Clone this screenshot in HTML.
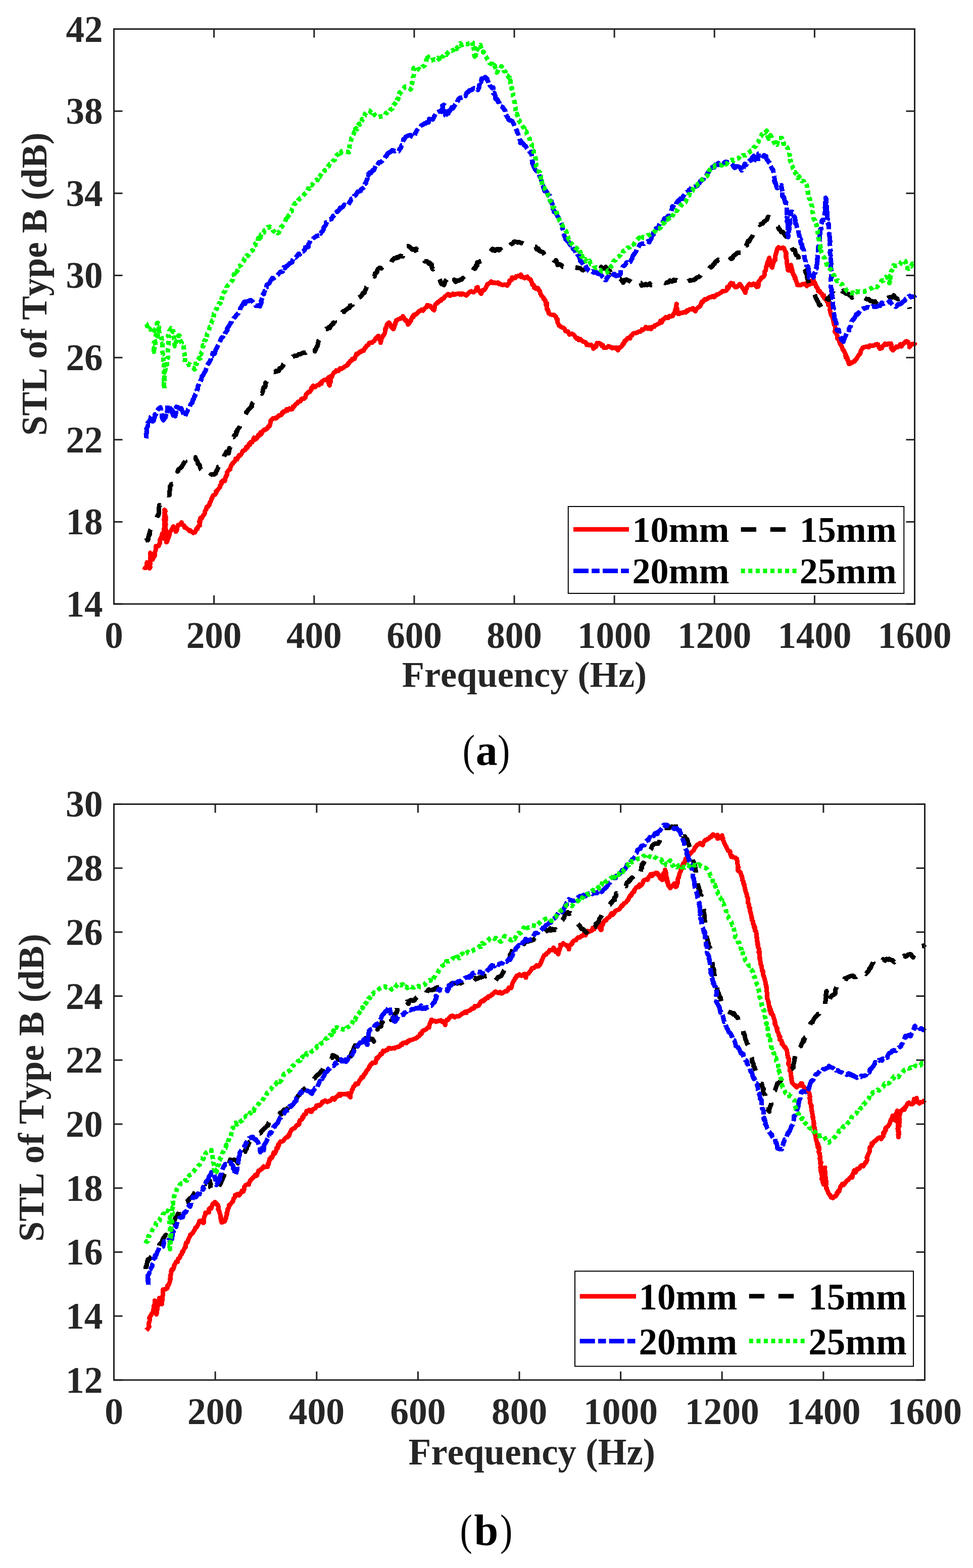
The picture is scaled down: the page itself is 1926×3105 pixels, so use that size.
<!DOCTYPE html>
<html><head><meta charset="utf-8"><title>STL of Type B</title>
<style>html,body{margin:0;padding:0;background:#fff;}svg{display:block;}text{font-kerning:none;}</style></head>
<body>
<svg width="1926" height="3105" viewBox="0 0 1926 3105">
<rect width="1926" height="3105" fill="#fff"/>
<g><polyline points="286.6,1128.6 286.8,1124.9 288.7,1122.9 290.4,1121.1 290.4,1118.2 290.9,1113.8 292.5,1117.5 293.7,1119.1 295.1,1121.0 294.0,1124.1 296.2,1125.4 297.3,1123.2 296.6,1122.8 296.8,1119.5 298.0,1115.0 297.0,1112.8 297.5,1110.2 297.8,1108.3 297.1,1104.8 298.1,1102.7 298.7,1100.0 297.6,1098.9 297.5,1094.7 299.5,1097.9 300.1,1100.7 301.1,1105.7 302.0,1107.9 303.4,1105.2 305.5,1101.2 306.5,1100.4 307.0,1095.9 306.7,1094.1 307.4,1091.1 308.8,1087.5 308.1,1084.7 308.7,1081.6 311.9,1082.1 314.3,1081.0 315.1,1077.4 316.9,1075.0 316.7,1073.9 316.6,1068.7 318.7,1064.5 319.7,1065.1 320.6,1059.5 321.8,1055.7 322.3,1057.5 323.4,1063.5 324.0,1066.6 323.8,1062.6 323.5,1062.4 324.5,1057.3 324.8,1058.5 324.1,1051.5 324.7,1050.9 324.6,1048.2 325.2,1044.5 325.0,1038.4 325.3,1041.0 325.3,1037.3 325.6,1036.2 325.5,1033.8 324.8,1028.6 325.6,1027.4 325.4,1025.3 325.8,1021.0 326.5,1017.3 325.3,1015.8 325.9,1017.3 326.5,1011.7 325.5,1009.7 327.1,1011.1 327.2,1012.8 326.6,1016.4 326.7,1018.0 327.8,1023.3 328.5,1024.9 327.2,1026.2 327.3,1029.0 328.3,1029.7 327.1,1033.6 328.2,1038.8 327.5,1037.9 327.6,1042.4 327.9,1045.8 327.5,1046.1 328.4,1049.5 328.2,1050.4 328.5,1055.5 328.9,1057.0 329.6,1059.1 329.6,1062.3 329.9,1067.3 328.9,1068.0 328.8,1068.3 329.4,1073.6 330.6,1072.4 332.9,1066.3 333.6,1063.8 335.6,1058.9 335.3,1056.2 336.1,1055.3 335.9,1054.9 337.4,1052.5 339.8,1048.4 341.1,1046.5 343.0,1042.3 344.3,1047.0 346.8,1048.9 348.1,1053.0 349.4,1050.8 350.1,1048.8 350.5,1045.5 352.1,1041.8 352.5,1039.9 352.9,1039.4 356.9,1038.9 359.2,1034.3 360.0,1038.1 361.8,1039.5 364.5,1040.5 365.2,1044.8 368.7,1045.4 372.3,1048.6 375.3,1051.6 376.1,1049.9 379.5,1052.7 382.8,1055.3 385.7,1054.3 387.6,1050.5 389.1,1046.8 390.8,1047.0 391.7,1043.1 394.1,1040.6 396.0,1040.2 394.5,1033.2 396.3,1033.9 394.9,1031.7 396.1,1029.1 396.6,1025.7 399.3,1026.5 401.1,1023.2 402.5,1020.5 403.3,1020.4 405.4,1015.7 405.5,1013.7 406.4,1010.7 407.9,1009.5 409.3,1003.7 410.3,1003.2 412.0,1002.9 413.9,998.8 414.8,998.9 415.6,994.4 416.6,993.9 418.3,989.8 418.1,988.7 420.3,985.3 421.6,981.5 424.2,979.9 426.0,979.3 428.3,975.1 427.7,972.9 429.7,971.9 432.2,968.2 433.9,966.5 435.7,964.7 435.8,960.7 437.0,960.1 438.9,957.1 438.0,954.7 441.1,952.1 442.9,950.7 445.0,952.6 445.5,948.9 447.5,941.9 447.9,943.7 449.8,938.9 449.9,938.7 449.4,934.9 449.9,934.6 452.3,932.0 454.2,929.4 455.9,928.9 456.0,925.9 458.4,920.4 460.5,917.2 460.8,918.2 463.7,914.4 465.9,911.9 466.1,908.4 468.5,909.5 469.3,909.7 471.6,904.6 473.1,901.5 475.3,902.3 477.4,899.1 478.5,898.1 480.3,893.1 482.1,893.3 483.6,891.3 485.5,890.9 487.2,885.8 489.8,886.5 491.2,882.7 493.1,878.3 494.8,880.6 496.2,875.5 499.1,875.9 499.8,874.7 501.2,870.9 502.7,866.7 505.7,870.0 507.2,868.8 509.5,866.1 511.2,861.6 514.0,862.3 515.7,856.1 517.3,859.5 519.9,853.9 522.8,850.8 525.1,851.1 527.6,849.9 529.8,847.3 530.5,845.1 533.7,843.6 534.5,839.8 533.5,842.2 535.0,839.1 535.7,833.5 538.1,831.3 540.3,828.7 541.4,829.1 544.0,827.9 546.5,828.2 549.0,826.2 551.9,822.6 554.6,822.6 558.3,820.5 558.4,817.3 560.4,815.0 562.9,815.1 565.5,814.3 567.1,810.6 570.0,812.7 572.8,808.8 574.8,810.5 578.8,810.0 580.0,805.3 582.6,805.1 584.7,800.7 585.2,800.7 588.1,799.0 590.0,795.5 591.9,795.3 594.8,794.6 596.7,790.0 599.1,789.8 601.4,789.7 604.6,786.6 605.8,781.3 606.8,780.7 610.2,776.6 611.8,776.0 612.8,776.3 616.1,772.3 615.6,771.4 616.5,768.4 620.1,764.0 623.6,766.6 626.6,764.0 628.3,762.9 631.3,762.7 634.4,758.1 636.0,760.0 637.5,755.4 638.6,754.7 641.2,752.6 644.6,752.5 647.3,750.9 651.0,746.7 650.5,752.2 651.2,757.3 650.7,757.4 651.0,760.5 652.4,763.2 652.9,759.4 653.6,758.0 654.5,755.8 654.3,751.3 655.1,749.0 655.9,744.3 657.7,745.1 657.7,743.4 659.1,740.7 661.4,737.5 663.7,736.9 665.5,733.6 668.0,734.6 670.0,734.4 673.1,729.7 675.8,730.5 679.6,728.1 680.2,727.4 682.8,725.7 685.6,724.0 687.5,723.5 689.8,719.0 691.1,719.2 693.4,714.8 696.3,713.9 697.3,710.9 700.6,711.1 702.1,710.4 703.7,705.7 705.7,700.4 708.0,701.7 710.4,698.6 713.1,696.1 714.3,697.2 716.1,694.3 719.6,694.7 721.1,691.5 722.2,689.0 723.9,688.3 725.9,684.3 729.1,683.2 731.1,679.0 734.1,678.3 736.9,678.8 738.7,676.1 741.1,675.2 742.5,671.6 744.0,669.8 746.5,667.0 748.1,665.7 749.3,665.3 749.8,670.5 749.7,670.7 752.5,674.0 753.3,678.8 754.6,673.8 754.7,673.4 754.8,670.0 756.6,668.7 757.1,667.2 758.4,664.5 760.1,663.1 761.9,659.0 762.2,656.8 762.3,654.4 763.1,650.0 763.9,650.7 764.5,649.1 765.5,644.4 766.8,642.8 766.8,641.5 769.7,638.8 771.4,640.6 773.0,643.0 774.5,647.8 776.5,649.4 778.8,651.9 779.9,648.9 780.8,645.4 781.4,642.9 782.3,642.6 782.9,637.9 784.4,636.6 784.3,634.2 787.7,632.6 790.2,631.9 792.4,630.3 795.1,630.3 797.4,626.3 799.9,629.9 801.8,634.3 802.6,633.7 804.7,634.5 806.1,637.0 807.7,642.7 810.2,639.8 811.3,637.5 813.5,635.1 814.4,631.2 815.7,628.2 818.1,628.0 818.7,623.8 820.6,623.0 823.5,622.9 824.8,621.5 826.9,619.2 829.5,616.3 831.1,615.9 834.6,613.1 837.3,615.3 839.8,611.6 841.1,610.3 844.3,608.2 845.8,604.3 847.4,604.5 850.3,607.0 851.9,605.8 854.4,609.5 856.3,612.0 859.4,614.3 860.2,609.1 861.1,604.6 862.9,601.7 864.3,601.6 866.0,598.7 867.4,599.0 869.6,595.9 873.1,595.3 873.9,592.4 876.8,591.4 878.7,590.5 880.4,587.2 881.2,587.3 884.9,583.5 887.4,582.3 890.8,585.7 893.3,584.5 896.5,581.6 899.1,583.9 901.4,582.4 903.4,582.4 907.4,581.1 909.9,583.1 912.2,581.6 913.3,583.4 916.2,581.4 921.0,584.2 923.1,585.1 924.9,583.0 927.1,580.5 929.6,578.4 932.6,576.9 934.6,577.7 937.1,579.0 939.8,576.8 942.7,575.0 943.1,570.0 945.6,568.8 945.6,571.1 948.3,575.8 948.7,576.9 950.5,575.9 951.5,581.1 952.7,581.7 954.4,575.2 956.9,574.4 958.8,574.2 961.0,571.3 962.3,568.9 963.1,567.0 964.7,562.8 965.5,563.0 968.5,561.0 969.6,560.0 972.1,557.4 975.3,560.5 978.3,559.1 979.9,560.6 983.0,560.5 985.2,559.4 987.0,562.2 989.9,561.8 992.5,563.6 995.0,564.5 998.3,563.3 1000.6,564.4 1004.3,565.6 1003.9,563.9 1006.7,561.7 1007.3,561.6 1008.6,555.8 1010.6,555.6 1012.9,554.0 1013.5,549.5 1018.1,550.7 1019.7,551.0 1021.9,547.1 1025.7,546.8 1027.9,546.3 1031.1,543.8 1032.3,549.0 1035.3,548.6 1038.4,551.0 1041.7,548.6 1043.7,547.9 1045.5,550.9 1049.0,553.0 1049.8,552.9 1052.1,558.1 1053.5,561.8 1053.7,563.7 1056.4,564.3 1057.3,569.9 1058.1,567.2 1060.6,571.5 1061.0,571.3 1064.7,570.3 1066.2,574.2 1067.2,574.6 1068.8,576.6 1069.2,579.8 1070.8,583.8 1071.3,585.1 1073.3,586.5 1075.8,589.5 1075.9,591.9 1078.3,593.4 1079.8,595.9 1079.7,596.1 1080.9,604.4 1082.8,600.7 1082.2,604.3 1083.0,610.0 1082.8,612.9 1085.1,615.8 1085.0,614.0 1086.2,620.8 1087.3,621.0 1089.5,622.8 1093.8,623.4 1094.6,623.1 1096.9,623.9 1100.8,627.7 1101.9,632.3 1102.1,632.1 1103.4,632.2 1103.8,638.7 1105.2,641.2 1106.6,645.1 1108.3,645.7 1111.7,648.0 1112.7,648.5 1115.8,649.3 1117.5,651.0 1118.9,655.2 1121.6,656.5 1124.4,656.5 1127.0,662.4 1130.1,661.5 1132.3,660.9 1135.3,662.5 1137.9,665.6 1139.4,668.8 1141.0,670.4 1143.6,669.1 1145.5,673.2 1149.2,671.6 1151.1,674.1 1154.3,676.4 1156.9,677.0 1159.5,678.2 1161.3,683.0 1164.5,682.4 1166.6,683.7 1170.2,682.9 1173.1,685.4 1174.5,690.3 1177.1,688.3 1180.4,685.8 1181.0,680.4 1182.0,679.1 1184.8,679.1 1188.9,680.8 1191.2,685.0 1193.1,683.3 1195.5,688.6 1199.5,688.8 1201.5,687.9 1204.2,685.6 1206.2,686.5 1209.5,687.4 1212.0,689.6 1214.1,688.4 1217.4,689.1 1220.7,688.2 1223.1,693.8 1224.9,688.2 1227.2,688.6 1230.7,685.3 1231.7,684.5 1233.2,680.4 1235.0,680.3 1236.7,674.7 1237.2,675.5 1240.0,672.9 1242.4,669.6 1244.4,668.6 1247.0,670.2 1248.9,665.1 1250.9,664.0 1253.4,660.2 1257.2,659.6 1260.6,659.1 1262.3,658.0 1265.2,656.6 1268.0,656.5 1270.6,654.1 1271.1,652.2 1274.0,652.3 1276.0,650.9 1278.4,647.7 1281.2,649.3 1282.8,651.1 1286.1,648.0 1288.7,651.7 1290.7,647.4 1294.9,647.1 1296.5,644.2 1298.2,643.8 1302.6,641.6 1305.8,640.1 1307.4,635.3 1309.9,638.5 1312.0,633.1 1314.3,632.2 1317.9,628.1 1320.4,629.9 1322.6,630.0 1324.9,625.8 1328.6,626.5 1331.1,625.7 1331.5,625.7 1333.3,621.9 1334.3,620.3 1336.7,616.7 1336.9,612.7 1338.1,612.7 1338.2,607.8 1338.4,607.0 1339.2,601.9 1338.7,606.6 1340.2,611.3 1339.7,613.7 1340.2,613.1 1340.4,616.8 1340.5,620.2 1342.6,622.0 1344.8,621.6 1346.8,619.1 1350.1,619.4 1352.0,619.1 1355.4,617.7 1357.4,618.6 1360.1,614.6 1362.2,615.3 1365.0,612.5 1368.4,612.5 1371.6,610.4 1373.5,613.9 1376.6,616.2 1378.1,612.2 1381.6,609.2 1383.9,607.6 1385.9,606.3 1386.8,603.2 1388.2,601.5 1389.0,597.8 1391.3,597.9 1393.3,594.6 1395.5,592.1 1397.0,593.5 1400.7,591.9 1402.7,589.4 1404.8,588.6 1407.6,588.6 1410.4,586.4 1413.7,588.2 1416.0,585.9 1418.7,583.3 1421.3,583.2 1424.1,581.2 1425.8,580.1 1428.9,578.5 1431.0,576.1 1434.2,576.4 1437.5,575.5 1439.3,572.6 1439.9,568.1 1441.8,570.7 1443.3,567.6 1444.5,564.1 1446.9,560.4 1447.4,561.9 1449.0,562.3 1451.0,561.1 1451.8,565.5 1455.1,567.7 1455.6,568.5 1459.6,568.1 1462.5,564.2 1464.7,562.8 1467.6,567.0 1469.5,569.7 1470.8,571.8 1473.8,573.9 1473.2,575.2 1475.3,579.8 1475.9,573.9 1477.6,572.1 1478.9,568.2 1479.3,567.5 1481.0,565.2 1483.5,562.0 1486.8,564.8 1488.8,564.2 1491.2,561.8 1493.8,562.5 1495.5,566.1 1497.8,568.2 1500.0,567.3 1500.9,567.3 1501.4,565.1 1501.4,558.4 1502.6,556.7 1503.6,556.1 1505.0,553.9 1506.9,549.9 1508.2,549.7 1511.2,548.5 1513.3,544.8 1513.4,543.2 1513.2,539.6 1513.7,537.9 1515.9,535.5 1516.0,533.4 1516.4,529.1 1517.4,527.2 1518.5,522.2 1519.3,520.4 1519.7,518.2 1521.7,517.2 1522.0,512.5 1522.9,510.4 1524.0,516.6 1524.2,515.4 1524.7,520.3 1525.7,521.4 1527.0,523.2 1526.9,527.9 1528.6,530.1 1529.1,526.7 1529.3,524.6 1531.4,519.6 1531.0,519.6 1532.8,515.9 1534.0,512.1 1534.7,514.7 1534.5,507.5 1535.1,505.3 1535.7,503.1 1536.9,498.9 1536.9,500.1 1537.7,495.4 1538.2,493.8 1539.5,491.2 1541.0,489.6 1543.6,491.7 1547.2,491.2 1550.3,490.4 1551.7,491.4 1553.8,496.3 1553.8,496.8 1556.0,500.1 1555.9,502.9 1556.3,501.5 1555.6,509.2 1556.7,508.7 1556.9,512.5 1557.0,513.6 1557.6,518.8 1557.7,522.1 1559.1,524.4 1559.1,525.1 1558.9,528.5 1559.8,534.9 1561.3,535.9 1561.8,530.0 1563.3,529.6 1563.7,527.0 1565.6,524.8 1566.0,526.8 1566.9,529.4 1567.3,532.0 1568.6,537.5 1568.9,540.2 1569.7,542.5 1570.7,542.7 1571.5,546.4 1572.9,546.8 1573.1,551.7 1574.6,550.5 1575.4,555.2 1576.9,559.4 1578.1,562.5 1578.0,564.0 1580.5,564.6 1583.8,564.9 1586.6,564.0 1589.0,562.4 1591.7,562.7 1594.3,561.7 1597.0,566.7 1599.4,563.1 1601.8,561.3 1603.2,563.1 1606.2,555.8 1608.2,561.6 1610.7,554.7 1611.1,557.2 1613.7,560.9 1613.4,560.8 1615.5,566.6 1615.7,568.3 1618.2,570.2 1619.5,576.2 1622.3,576.0 1623.8,579.3 1626.8,582.0 1628.4,584.6 1628.8,586.5 1631.0,585.1 1631.1,589.0 1632.2,591.3 1634.3,592.3 1636.0,595.1 1637.0,597.5 1638.2,598.2 1640.2,599.3 1639.3,604.0 1643.2,606.5 1642.7,606.5 1643.9,611.2 1642.3,613.2 1643.2,616.1 1644.8,622.1 1644.9,622.5 1644.7,622.6 1646.2,625.9 1648.0,628.0 1649.3,633.5 1650.0,637.1 1650.4,639.2 1650.4,638.7 1651.0,643.0 1652.7,645.3 1653.2,648.1 1653.5,651.3 1652.7,657.1 1654.5,659.6 1655.1,659.1 1656.2,662.0 1657.6,664.8 1657.6,667.0 1657.9,671.2 1659.8,672.0 1661.1,674.2 1662.2,678.9 1664.3,683.0 1664.6,682.9 1666.7,687.0 1666.9,688.0 1668.4,692.8 1670.1,693.4 1670.4,694.0 1672.2,698.5 1674.5,703.2 1673.7,702.7 1674.1,707.7 1677.0,708.2 1677.4,712.4 1679.0,713.5 1680.3,720.9 1682.4,720.0 1683.1,720.2 1686.6,718.0 1689.8,716.2 1691.4,715.9 1692.2,713.9 1695.4,710.7 1696.7,707.8 1698.1,706.0 1699.8,703.1 1701.7,701.4 1703.0,700.2 1703.3,696.2 1704.9,692.8 1706.7,690.9 1707.9,688.3 1710.4,687.5 1713.4,686.8 1717.5,687.0 1719.6,687.6 1721.6,684.0 1724.5,684.5 1726.8,684.8 1729.8,684.2 1732.8,682.3 1734.8,681.9 1737.9,682.0 1739.0,686.0 1741.6,690.5 1742.8,687.0 1745.2,689.7 1746.8,686.0 1748.8,684.0 1751.5,680.9 1751.9,680.4 1756.0,682.8 1758.5,680.3 1760.9,681.9 1763.7,680.0 1764.7,684.8 1763.9,688.6 1765.6,691.9 1766.9,693.4 1768.1,693.5 1770.3,690.4 1772.8,688.2 1774.0,686.6 1777.2,687.3 1778.6,685.9 1782.5,681.8 1784.3,686.1 1787.8,680.8 1789.1,679.7 1791.9,676.9 1792.7,676.2 1794.6,675.7 1797.4,677.1 1798.2,679.4 1800.0,683.3 1800.4,687.4 1803.6,681.9 1805.7,681.8 1810.3,681.2 1811.5,677.7" fill="none" stroke="#f00" stroke-width="9" stroke-linejoin="round" shape-rendering="crispEdges"/><polyline points="287.4,1070.7 289.0,1070.0 292.8,1069.5 293.1,1069.1 293.2,1066.6 294.3,1061.0 295.1,1061.1 295.3,1057.1 296.6,1057.6 296.5,1055.3 297.2,1050.3 298.5,1047.8 299.8,1044.2 299.9,1041.6 303.5,1038.7 304.8,1035.3 305.8,1032.6 305.8,1030.7 307.5,1029.8 310.0,1025.9 311.7,1021.3 313.3,1021.0 314.3,1017.2 313.8,1017.5 314.9,1012.9 314.5,1009.8 314.5,1007.5 314.6,1005.8 315.4,1000.2 315.9,1001.0 317.4,1000.0 320.7,994.9 322.4,993.4 323.0,991.1 324.2,986.5 326.0,985.5 325.8,981.3 328.0,979.7 329.2,980.0 332.4,980.8 335.3,980.6 335.7,980.2 335.9,975.8 335.9,972.0 336.3,970.0 336.6,968.4 336.2,963.7 336.7,963.0 339.1,959.0 343.1,958.5 343.6,959.0 344.8,955.5 345.8,954.4 348.2,948.1 348.2,947.6 350.1,945.8 349.5,938.8 351.8,937.1 352.1,933.5 351.6,934.0 353.0,929.3 354.4,929.0 358.0,926.1 360.3,924.0 359.8,923.9 362.4,920.0 363.8,916.9 366.8,913.2 366.6,913.1 369.2,910.4 370.3,907.2 372.1,905.9 373.8,903.3 376.6,905.1 380.1,902.3 384.4,905.6 385.6,907.0 386.9,905.5 387.5,909.4 390.5,912.9 391.2,915.5 391.7,918.5 393.8,919.9 395.6,921.7 395.5,924.3 397.4,929.2 399.4,931.1 401.0,930.7 402.4,932.4 403.9,938.0 405.7,938.9 407.0,941.6 409.8,940.7 412.3,944.8 414.0,943.9 417.8,939.5 420.4,939.5 421.5,939.0 424.5,939.4 427.0,937.8 428.3,932.4 429.0,932.8 430.3,929.6 431.9,925.8 432.0,924.4 434.2,924.0 435.1,921.2 437.7,919.4 438.2,919.0 439.2,911.9 442.4,912.4 442.7,908.7 441.7,906.2 444.0,901.6 443.9,901.5 445.1,901.1 448.0,894.7 452.6,897.8 452.9,896.5 453.6,892.0 453.9,889.2 454.0,887.2 454.9,888.0 455.3,886.2 456.2,879.9 456.6,878.1 456.4,871.9 457.4,873.4 458.2,870.3 458.3,869.3 459.7,864.3 462.5,865.3 463.8,861.9 467.4,861.0 468.4,855.3 467.2,855.9 469.7,853.5 469.7,851.5 471.8,848.7 473.1,846.8 473.8,846.4 475.0,843.8 476.4,839.4 477.3,836.6 479.1,834.9 480.7,832.8 480.0,829.7 482.1,826.9 482.3,823.0 483.6,822.0 485.6,821.8 487.6,818.2 487.5,816.5 488.7,815.9 491.5,811.6 492.9,809.8 495.0,807.8 496.7,805.6 498.3,805.2 498.7,800.1 500.4,797.4 501.2,796.4 503.9,796.2 505.7,792.6 507.8,791.0 509.1,790.9 512.0,786.6 512.6,786.1 514.2,784.1 516.2,780.5 516.4,777.4 518.4,779.3 519.9,776.2 520.8,772.1 521.5,767.8 522.0,767.2 524.9,766.7 525.6,761.2 525.7,758.1 526.4,758.0 529.3,753.5 529.2,749.9 530.9,748.6 530.0,749.5 531.9,749.1 534.1,745.0 535.4,741.7 537.5,740.8 538.6,737.6 541.5,736.6 543.8,736.9 546.8,734.3 547.2,735.2 551.5,734.9 553.9,730.4 553.7,729.3 557.1,728.3 558.6,725.8 560.4,724.4 560.9,721.2 563.3,719.0 564.2,718.2 567.2,714.9 568.3,714.9 571.1,711.2 572.2,713.7 575.7,708.4 577.1,709.0 579.3,706.4 581.9,705.5 583.1,704.4 586.7,704.9 589.0,703.6 591.7,701.0 595.3,701.1 596.0,700.3 598.6,699.0 602.3,698.6 604.7,698.9 606.3,698.0 608.7,696.2 611.3,694.2 612.3,691.8 614.5,689.5 617.9,689.3 620.6,684.7 623.2,686.5 622.9,687.1 624.0,690.1 623.5,693.3 623.2,695.7 623.8,694.8 625.0,692.3 626.2,688.1 627.2,687.3 628.2,685.3 628.4,684.9 629.3,681.8 629.8,678.1 630.9,674.5 632.0,672.9 633.2,671.4 634.1,668.0 635.1,664.7 635.6,662.6 636.7,660.2 638.1,655.5 639.5,656.2 641.1,655.9 643.3,653.9 645.5,651.4 647.5,651.6 650.3,648.2 653.0,649.8 654.3,645.8 655.3,644.8 657.5,642.4 659.9,641.2 659.3,639.3 662.5,637.4 662.2,631.1 665.1,632.8 668.6,632.4 670.9,630.4 672.3,625.0 674.6,622.8 677.2,621.7 678.9,616.5 681.1,617.6 683.1,614.2 685.9,613.2 688.1,610.9 689.8,609.7 692.1,609.4 693.2,605.0 695.0,605.1 697.9,603.7 698.9,598.4 701.3,600.9 702.7,596.3 704.6,591.0 707.9,593.8 709.6,590.0 713.3,587.8 713.3,586.9 715.9,585.5 718.3,580.4 721.4,580.1 721.7,577.9 723.8,573.2 723.8,573.8 724.2,573.0 725.6,568.3 727.5,565.9 728.3,563.5 728.5,560.7 731.0,558.9 731.4,556.6 734.0,555.5 735.1,551.7 737.6,549.6 739.2,548.9 740.4,546.3 741.6,547.2 742.2,541.3 745.0,540.4 746.4,538.0 747.1,534.3 749.1,532.1 751.4,530.2 752.2,530.0 755.2,531.4 758.6,527.6 760.3,525.8 763.6,530.1 765.7,523.5 767.1,521.8 769.5,520.4 771.4,520.4 774.6,520.0 776.1,516.1 778.9,513.2 780.5,511.4 783.3,511.5 785.1,509.3 787.2,510.6 789.4,508.5 792.7,506.7 794.2,507.1 797.1,507.9 797.4,502.8 797.2,499.8 799.4,497.5 798.6,493.3 799.6,492.1 801.2,490.2 799.9,487.3 803.0,488.8 804.5,487.7 808.4,487.3 811.3,489.3 813.8,492.0 815.7,494.1 819.0,493.4 821.8,496.3 824.1,492.6 825.4,494.7 829.5,494.9 829.3,496.7 830.1,501.1 830.8,501.5 830.6,504.1 830.7,508.6 831.4,510.7 834.9,513.5 835.9,514.0 839.4,514.9 840.5,517.4 843.0,517.0 845.8,518.0 848.9,522.1 851.1,520.7 852.9,522.4 854.3,523.5 854.9,524.5 854.9,529.2 856.8,533.1 857.0,532.5 857.6,538.4 859.0,539.3 859.4,541.7 860.1,543.9 861.1,548.0 863.7,549.5 864.7,549.0 868.9,552.2 870.0,552.4 871.3,555.2 872.3,559.6 874.0,562.4 875.3,561.1 877.0,562.7 879.0,564.7 880.2,561.2 880.9,559.1 882.0,555.6 883.4,554.7 884.9,552.7 885.9,551.2 888.5,543.7 888.5,545.0 889.8,543.0 891.9,543.7 893.6,547.2 894.7,548.3 896.3,549.4 899.5,554.9 899.1,554.0 901.6,558.1 903.6,557.2 906.1,555.0 909.0,555.5 911.5,553.6 913.9,553.7 916.0,550.3 918.8,554.1 921.1,550.8 925.0,547.8 926.9,545.5 928.9,542.3 932.2,542.1 932.2,541.7 934.3,538.6 936.6,535.3 938.9,530.7 940.6,531.8 941.4,530.1 942.2,526.1 944.6,525.8 944.7,519.7 948.6,518.8 950.9,517.2 954.4,516.0 956.8,515.7 958.2,513.5 960.3,512.8 962.7,508.8 963.8,506.6 966.4,504.1 967.0,504.1 968.7,502.0 970.6,498.3 972.0,496.6 974.7,492.9 977.0,493.5 979.2,496.7 982.9,493.6 985.0,493.0 987.8,495.7 990.8,493.3 993.0,499.1 996.0,498.3 999.3,495.7 1001.3,489.7 1003.1,490.4 1004.9,488.5 1006.9,486.2 1009.3,486.4 1011.0,484.2 1013.9,482.8 1015.4,481.4 1017.4,478.8 1019.8,478.5 1022.3,479.1 1025.2,480.1 1027.6,479.4 1031.0,480.8 1032.4,481.5 1034.8,481.7 1036.8,482.7 1039.6,486.0 1042.2,485.1 1043.2,486.6 1046.9,485.5 1049.0,483.5 1051.7,483.7 1054.5,487.0 1057.8,488.0 1060.5,488.7 1062.3,493.9 1063.1,492.7 1066.1,492.6 1067.6,496.8 1070.5,497.9 1072.0,498.7 1075.0,499.4 1075.9,501.3 1078.5,505.3 1079.5,508.2 1082.6,508.7 1085.2,511.5 1086.5,512.8 1089.4,516.1 1093.8,511.4 1095.9,515.6 1098.6,516.9 1100.3,515.1 1102.0,518.4 1103.8,525.0 1106.6,523.4 1107.9,523.6 1111.1,525.2 1113.8,528.3 1117.2,528.9 1118.9,526.0 1121.0,526.4 1124.4,524.3 1127.7,525.8 1129.8,525.9 1131.6,525.2 1134.2,526.3 1136.4,528.2 1138.5,529.1 1140.5,529.3 1142.2,530.8 1146.7,531.0 1148.6,531.0 1150.9,533.3 1154.2,535.2 1156.2,534.0 1159.4,532.6 1162.0,530.1 1165.2,528.6 1167.3,530.2 1170.0,528.4 1172.6,529.9 1174.1,531.2 1176.8,530.7 1181.3,532.4 1181.9,531.0 1185.1,533.1 1188.6,532.1 1190.2,528.6 1193.1,531.8 1195.5,531.8 1199.0,528.5 1200.5,531.3 1204.7,536.3 1207.3,536.6 1207.9,539.2 1210.2,537.7 1212.6,539.7 1214.4,543.4 1215.9,543.0 1218.3,544.0 1221.8,547.9 1223.9,548.2 1225.1,552.3 1227.7,552.2 1230.0,554.4 1233.8,559.7 1236.0,554.6 1238.1,554.6 1239.7,553.6 1244.0,555.6 1246.7,556.5 1249.4,558.5 1252.4,558.3 1254.8,563.3 1257.7,560.0 1259.8,558.8 1262.8,563.5 1264.1,560.8 1268.5,560.6 1269.9,565.3 1273.0,564.9 1275.9,564.4 1277.8,562.5 1280.8,564.4 1283.8,563.0 1286.3,561.6 1288.1,564.5 1290.9,564.1 1293.3,564.7 1296.3,564.4 1298.4,566.5 1302.3,566.4 1304.6,566.8 1306.3,564.4 1308.8,563.6 1312.2,560.6 1314.7,559.6 1316.2,560.2 1319.8,559.8 1324.0,558.3 1326.4,555.6 1327.6,557.0 1331.0,557.2 1333.6,553.9 1335.6,556.1 1339.0,554.9 1342.0,557.0 1344.7,557.6 1346.8,558.4 1348.9,553.9 1352.1,555.7 1354.6,557.2 1357.5,556.1 1359.9,558.5 1362.8,556.7 1366.3,554.9 1368.1,555.3 1371.6,554.3 1373.3,554.9 1374.5,553.5 1376.6,552.5 1379.3,549.8 1381.3,549.1 1384.4,547.9 1386.7,545.6 1388.8,542.4 1390.3,539.2 1391.3,539.2 1393.1,535.1 1394.9,533.0 1396.7,532.1 1400.4,528.7 1403.6,532.7 1405.9,528.4 1407.7,529.4 1410.4,527.3 1411.1,524.8 1414.1,522.7 1415.2,519.4 1417.3,517.2 1419.8,517.1 1421.3,514.2 1424.2,514.8 1426.5,510.2 1429.0,510.2 1432.1,507.8 1434.6,509.9 1436.5,508.8 1440.2,514.1 1443.5,515.2 1446.2,511.9 1448.0,512.8 1451.0,509.9 1451.0,507.3 1454.2,504.7 1455.9,504.2 1456.5,503.6 1459.8,500.5 1462.0,500.3 1464.2,500.1 1468.1,500.0 1470.1,501.8 1470.7,496.1 1472.7,498.4 1473.8,490.9 1474.9,491.6 1476.6,488.8 1477.1,485.2 1478.7,485.6 1478.8,482.6 1480.8,477.0 1482.7,478.2 1484.5,474.5 1485.2,473.2 1486.6,471.2 1489.2,468.0 1489.3,467.6 1490.4,464.1 1492.4,460.7 1493.7,460.4 1494.4,455.4 1495.1,453.5 1496.1,453.1 1496.9,447.3 1498.5,448.1 1499.9,446.4 1502.3,443.9 1503.7,445.3 1507.2,443.2 1510.1,442.7 1511.9,439.2 1514.2,438.0 1516.6,435.8 1518.2,435.1 1520.1,429.2 1523.0,430.5 1525.2,432.1 1529.5,432.1 1531.0,431.7 1532.3,433.4 1533.1,437.4 1534.9,440.5 1536.1,443.6 1535.7,443.9 1537.2,447.0 1540.1,448.4 1540.4,450.9 1542.2,454.3 1543.8,454.3 1546.1,459.7 1548.1,458.8 1549.9,459.4 1552.1,463.1 1553.3,465.0 1555.5,468.2 1557.4,467.4 1558.5,471.2 1560.8,471.9 1560.8,478.2 1562.1,479.2 1562.7,481.0 1563.2,482.4 1564.4,487.7 1566.3,488.5 1568.3,492.9 1570.0,495.0 1571.6,495.1 1573.3,495.1 1574.8,502.9 1575.7,504.6 1577.4,505.8 1579.0,506.5 1580.5,508.8 1580.8,514.0 1582.7,514.5 1583.4,517.1 1585.5,520.6 1586.5,523.5 1588.5,523.8 1589.2,529.7 1590.4,527.7 1592.0,532.7 1593.4,534.2 1594.4,535.4 1594.8,539.5 1596.0,540.9 1597.1,544.8 1597.0,547.3 1598.5,550.7 1598.8,553.4 1599.9,556.5 1600.5,557.9 1601.8,563.3 1602.0,562.7 1603.5,563.5 1604.4,568.2 1605.4,571.1 1606.3,571.9 1607.4,575.2 1607.7,576.8 1609.6,578.5 1610.5,581.1 1611.9,581.2 1613.2,584.3 1614.2,588.7 1616.5,592.1 1616.1,592.6 1617.7,595.7 1619.1,597.4 1620.5,600.7 1621.5,604.1 1623.1,603.3 1625.7,608.4 1626.7,611.4 1629.9,612.5 1631.7,613.1 1632.4,611.9 1632.5,610.2 1632.3,608.8 1634.5,605.9 1635.0,600.8 1636.1,599.4 1636.5,594.9 1638.2,590.9 1640.7,593.7 1641.8,587.8 1643.9,586.6 1644.9,586.4 1646.0,582.8 1647.1,578.0 1648.5,577.4 1649.1,577.3 1649.4,572.7 1650.7,571.4 1651.9,569.7 1652.2,567.0 1655.8,569.4 1657.8,569.8 1660.6,571.4 1663.6,573.3 1665.8,574.2 1667.3,577.1 1669.8,575.6 1673.0,580.3 1674.9,581.3 1677.2,581.5 1678.8,582.0 1682.3,585.4 1684.9,586.3 1686.3,589.3 1689.9,587.5 1692.2,588.2 1695.4,588.8 1697.7,590.7 1699.8,589.3 1703.6,589.6 1705.2,587.3 1708.9,591.4 1710.8,589.5 1714.0,591.5 1716.5,593.0 1719.4,592.2 1721.5,595.1 1724.9,596.6 1726.2,596.3 1729.2,598.4 1731.9,596.9 1733.8,598.3 1736.7,594.9 1738.6,595.4 1741.0,594.0 1743.4,592.2 1746.4,590.1 1746.9,592.8 1750.5,595.7 1752.3,593.6 1755.0,591.4 1758.7,589.3 1760.9,588.7 1764.9,588.9 1766.6,589.1 1769.3,584.9 1772.6,590.0 1774.7,590.7 1777.4,592.3 1779.2,592.4 1782.2,591.6 1785.5,594.4 1786.9,597.0 1791.0,598.0 1791.7,597.4 1795.1,601.3 1796.8,602.7 1798.6,604.8 1800.3,607.8 1801.0,611.5" fill="none" stroke="#000" stroke-width="9" stroke-linejoin="round" shape-rendering="crispEdges" stroke-dasharray="30 28"/><polyline points="289.1,867.9 289.7,865.0 289.6,861.2 289.0,859.5 290.9,856.5 290.0,854.5 290.7,854.1 289.9,848.6 291.2,847.0 292.8,842.5 292.1,844.5 292.6,837.8 292.7,837.0 295.2,834.4 296.4,832.1 298.3,829.2 298.4,825.6 300.4,822.9 300.0,825.2 300.3,824.6 301.2,830.2 303.0,833.3 301.7,834.4 304.1,833.3 304.5,830.2 305.7,826.9 306.7,824.0 306.8,820.4 308.8,820.7 310.9,816.5 310.4,813.9 310.7,813.8 313.5,809.7 315.6,807.8 317.5,806.7 319.0,811.4 318.8,816.5 319.6,816.7 320.1,819.7 320.3,820.3 320.5,824.9 321.6,829.7 322.6,829.3 322.6,830.4 323.4,832.2 324.5,830.7 325.5,829.1 326.1,827.7 327.8,826.3 328.8,818.4 330.4,818.9 329.9,820.3 331.2,812.5 331.8,809.0 331.7,807.8 331.8,805.6 331.9,801.5 335.1,805.2 336.3,807.9 338.2,813.2 339.8,810.7 341.7,813.6 340.8,817.4 342.7,822.5 344.4,823.0 345.3,824.3 346.1,828.3 346.3,821.7 346.1,823.0 346.9,824.1 348.5,816.9 348.0,815.0 347.7,813.7 348.5,812.5 349.2,805.4 348.8,805.9 352.4,806.6 354.8,809.1 357.9,808.2 358.5,808.2 360.8,813.6 360.1,812.4 362.0,815.6 363.5,821.8 364.7,821.2 365.2,821.5 366.9,824.4 367.9,820.4 369.8,815.9 370.9,814.2 372.6,810.0 374.4,808.4 375.6,805.7 376.7,802.6 377.5,800.2 380.0,797.3 380.8,797.3 381.4,792.4 382.5,790.3 383.9,789.9 384.6,784.8 386.1,784.1 386.2,781.6 388.3,778.2 388.3,776.6 390.3,773.1 389.7,772.0 391.7,769.8 391.4,765.6 393.0,762.6 393.4,761.7 394.5,756.9 395.7,756.9 396.8,753.8 398.7,752.2 398.7,750.4 399.6,745.2 402.2,742.6 403.8,739.2 404.5,738.0 405.1,737.2 407.5,733.0 407.7,731.2 409.0,727.1 411.2,723.0 411.8,720.0 412.7,720.1 413.2,719.1 415.2,715.8 416.6,712.5 417.2,711.8 416.4,707.5 419.0,705.3 419.9,705.1 421.0,699.2 424.5,700.5 425.5,698.6 426.2,695.2 426.6,693.4 429.2,688.8 429.4,689.1 430.9,684.9 431.1,684.7 433.8,679.7 434.0,679.3 436.0,674.8 436.6,673.3 438.8,668.4 440.3,667.8 441.3,667.3 443.0,661.5 443.8,662.4 444.9,662.5 445.9,659.3 448.7,655.8 450.1,654.5 449.8,650.6 453.0,645.7 454.4,643.6 455.7,641.4 456.6,639.3 458.0,638.4 458.5,635.3 460.4,633.7 462.0,630.6 463.9,628.8 465.7,627.5 468.1,623.5 469.9,621.6 471.8,620.7 473.0,617.2 474.0,615.7 475.0,614.4 475.2,611.4 477.9,607.3 478.5,606.2 480.8,602.1 482.6,598.6 485.5,601.3 486.6,598.7 486.8,592.7 489.6,590.8 491.0,590.4 493.3,596.1 496.8,594.5 499.9,597.1 501.7,599.7 503.9,601.0 506.1,605.5 509.3,605.5 510.9,604.9 513.7,606.0 514.4,606.9 515.0,605.1 516.9,600.9 517.9,596.8 516.6,596.3 518.0,592.7 520.0,587.7 519.1,587.8 520.3,582.9 522.0,580.8 522.4,582.6 523.8,576.1 524.1,576.2 525.7,569.4 527.8,568.9 527.7,565.1 528.5,563.5 530.5,562.8 532.7,561.2 534.1,558.6 536.2,555.0 538.9,550.8 540.8,551.7 542.1,550.9 544.4,549.5 548.0,546.3 549.8,544.8 550.7,543.2 552.7,540.8 555.4,537.9 557.6,538.3 559.9,537.4 561.5,529.5 564.2,531.0 566.6,527.3 568.4,526.9 571.0,524.2 573.2,521.1 575.1,521.0 578.4,519.5 579.0,515.2 581.4,511.6 583.4,509.3 585.2,510.1 587.8,507.2 588.9,505.0 591.5,502.5 593.6,504.1 594.6,500.9 598.2,498.2 599.8,498.1 601.3,496.6 603.7,494.1 604.2,490.0 607.7,489.6 610.4,489.1 611.0,482.7 612.8,480.8 614.0,476.1 615.6,475.3 617.2,474.9 618.8,474.2 621.0,471.3 624.2,469.2 626.7,467.3 628.7,466.5 632.8,466.0 632.5,461.7 634.9,462.5 636.5,459.1 638.2,458.3 640.4,454.6 640.7,451.0 641.4,449.2 643.2,447.6 645.5,444.5 645.6,440.3 647.3,440.2 648.5,437.8 651.6,434.7 652.9,434.5 656.1,433.9 658.4,429.3 659.3,427.2 660.7,427.9 662.3,425.7 664.9,424.1 666.7,418.8 667.6,420.0 670.1,417.4 673.3,411.5 674.7,412.8 676.6,410.7 678.9,409.3 681.3,405.4 684.2,407.6 687.3,406.2 689.3,405.3 691.2,402.4 691.8,399.9 694.3,397.6 695.3,393.8 698.6,393.1 700.3,392.1 701.1,387.7 703.6,387.1 705.3,384.9 706.5,381.9 708.3,379.1 709.7,379.5 713.8,378.3 714.4,375.1 717.3,373.4 718.7,372.0 720.0,371.6 722.9,367.9 722.8,363.1 724.3,363.3 724.9,359.4 726.3,356.0 727.3,353.4 727.4,351.1 727.2,348.2 728.4,345.0 729.3,347.3 731.4,341.8 734.2,342.9 737.2,337.6 738.6,337.9 740.1,336.7 741.3,334.9 742.2,331.6 743.3,328.7 744.6,326.6 746.6,328.2 749.2,322.3 751.2,321.0 753.1,321.5 753.6,320.9 757.1,318.3 760.2,314.3 761.2,313.1 763.6,309.2 765.0,309.1 767.1,304.1 769.3,302.7 770.8,301.4 773.1,301.1 776.5,297.4 779.8,298.5 781.4,299.5 783.7,298.5 787.0,299.4 789.3,299.5 791.4,294.3 792.4,294.2 793.9,292.3 794.8,288.2 795.4,287.0 796.6,286.7 798.0,279.4 798.7,277.4 798.7,275.4 799.6,276.5 803.2,270.9 804.5,270.4 808.4,268.2 810.9,267.7 812.8,267.6 815.1,270.0 819.1,271.9 820.2,269.8 821.4,269.1 821.7,263.7 823.3,262.0 824.2,259.9 826.1,256.8 828.2,253.9 830.2,253.4 833.2,249.4 833.9,248.4 836.6,247.3 840.3,244.3 843.1,244.5 844.8,242.3 848.4,242.4 849.9,235.3 851.6,240.6 854.4,236.6 856.4,236.8 858.8,232.2 858.9,231.6 861.1,227.7 862.7,224.7 864.6,224.6 866.4,222.4 868.1,221.4 871.0,220.4 874.0,221.5 874.8,216.6 876.7,213.8 875.6,209.0 876.9,210.8 877.2,209.0 878.7,207.9 879.5,208.5 881.3,210.8 880.0,217.4 880.2,219.3 880.9,223.5 881.8,225.4 883.6,226.8 881.6,228.5 883.8,229.1 885.2,226.1 887.6,224.8 888.5,219.1 890.6,219.6 892.2,217.1 894.1,212.7 896.4,214.7 897.7,212.0 900.0,209.7 900.9,207.3 901.7,206.1 904.9,203.9 905.3,200.7 906.7,199.6 907.7,195.7 911.0,193.5 914.1,193.3 918.1,192.4 917.8,189.6 921.6,190.1 923.3,184.5 924.9,182.5 927.2,182.3 929.2,179.0 930.9,178.5 934.3,178.1 936.3,175.7 938.6,174.8 941.0,175.2 943.0,174.2 946.0,178.2 948.8,172.2 948.6,169.8 948.6,169.2 950.0,166.1 951.6,160.7 952.2,162.8 953.2,155.6 953.6,155.5 956.7,155.2 959.3,153.4 960.7,152.8 964.8,156.8 964.4,158.8 966.1,161.1 967.2,164.9 968.0,163.8 969.6,169.3 972.1,171.5 974.0,174.4 976.2,173.1 976.3,176.1 975.6,182.6 976.1,184.3 978.4,183.8 978.7,185.5 980.3,189.4 980.8,196.1 982.8,196.1 984.2,196.5 985.9,198.6 985.8,201.8 988.2,203.3 988.6,209.0 992.2,210.4 994.4,211.5 995.5,213.0 998.0,216.7 999.7,218.5 1000.3,220.3 1001.2,227.9 1002.9,229.1 1003.6,231.4 1005.4,232.5 1006.4,236.8 1008.7,238.3 1011.2,238.6 1014.1,239.8 1015.0,241.7 1017.0,245.8 1018.4,249.7 1019.2,250.1 1020.7,254.4 1021.7,256.7 1023.6,259.0 1023.0,261.1 1025.3,264.6 1025.8,265.6 1026.4,269.4 1027.6,272.7 1028.5,276.2 1030.3,278.0 1029.9,283.2 1032.7,281.6 1034.4,283.5 1036.7,285.4 1037.7,287.9 1041.0,289.5 1042.2,292.9 1044.0,295.2 1046.5,296.8 1048.9,301.6 1052.0,300.5 1052.1,307.4 1052.4,307.8 1052.3,308.2 1052.9,312.8 1052.5,315.5 1053.0,317.4 1054.7,321.2 1053.4,322.6 1054.8,325.5 1056.5,327.5 1056.9,330.6 1058.4,334.1 1060.4,337.2 1062.3,338.8 1064.5,340.1 1063.8,340.7 1066.5,343.6 1067.5,346.9 1068.4,349.5 1069.8,352.1 1070.9,354.4 1071.6,358.2 1072.8,359.2 1073.3,365.4 1074.3,366.7 1075.2,368.7 1075.3,370.1 1076.4,372.8 1076.6,373.8 1078.2,378.5 1080.8,377.7 1083.3,381.8 1084.0,384.9 1085.5,386.2 1088.2,387.5 1089.0,390.1 1088.7,397.5 1089.9,397.5 1091.6,398.7 1091.1,401.2 1093.4,403.4 1093.8,407.5 1094.7,411.2 1094.3,413.2 1096.8,417.2 1096.7,419.8 1097.9,419.5 1100.0,420.6 1102.7,426.2 1104.3,429.9 1104.6,429.6 1106.9,433.8 1108.4,435.8 1110.5,436.5 1110.2,440.5 1110.7,441.6 1111.6,443.6 1113.3,446.9 1113.0,452.4 1114.2,454.1 1114.9,456.0 1114.7,457.3 1116.5,462.7 1116.6,464.6 1117.3,467.5 1117.9,469.2 1118.8,470.5 1119.5,473.7 1121.8,476.1 1123.3,477.6 1125.7,478.9 1126.7,482.3 1129.5,485.5 1131.4,484.5 1133.1,490.1 1134.8,493.0 1136.9,495.5 1136.9,493.9 1138.2,496.3 1139.4,499.3 1140.8,503.9 1142.2,502.2 1144.2,505.6 1146.0,506.3 1147.1,511.3 1148.9,509.5 1148.6,517.1 1151.7,519.4 1153.0,521.6 1154.5,524.2 1157.1,522.4 1159.1,526.4 1161.3,532.5 1161.9,531.9 1163.9,533.5 1164.7,535.5 1166.8,537.3 1169.7,538.3 1172.4,537.1 1175.4,540.1 1177.2,537.9 1180.2,539.1 1182.2,541.6 1185.6,542.7 1188.2,541.8 1189.9,544.4 1192.8,548.7 1193.9,550.0 1195.6,550.4 1197.6,554.5 1198.8,554.8 1200.1,554.4 1201.4,549.5 1202.8,549.2 1205.6,545.6 1206.7,542.8 1207.8,542.8 1209.1,541.0 1213.0,543.1 1215.0,544.3 1216.5,542.8 1219.6,546.8 1221.8,545.4 1225.1,545.1 1228.1,543.2 1229.0,539.3 1228.9,536.3 1228.9,535.1 1230.8,533.3 1232.8,528.1 1234.6,526.5 1236.4,526.0 1237.9,523.8 1240.5,519.5 1242.7,522.3 1246.6,519.5 1247.6,518.5 1249.8,513.8 1250.2,513.4 1251.7,511.3 1251.6,509.7 1252.8,506.5 1254.7,504.3 1254.9,502.7 1256.1,502.1 1258.9,498.4 1260.4,493.1 1262.3,492.3 1263.7,489.3 1264.8,487.0 1265.9,485.0 1267.3,483.7 1269.9,482.8 1273.4,483.0 1275.2,482.8 1277.3,480.8 1280.9,478.5 1282.5,477.7 1285.3,479.9 1286.1,477.2 1288.2,474.1 1289.8,471.9 1290.1,469.2 1291.3,464.8 1293.8,464.0 1293.2,460.6 1295.2,458.5 1296.3,454.7 1298.2,452.3 1300.2,452.6 1301.9,451.6 1303.9,449.0 1304.2,446.5 1307.5,440.7 1308.9,441.9 1310.5,441.3 1313.5,437.2 1315.3,432.1 1317.1,434.8 1319.5,431.3 1321.5,428.5 1323.3,427.6 1325.9,426.8 1326.6,422.9 1328.0,420.9 1328.0,420.8 1329.9,413.6 1330.2,411.8 1330.7,408.8 1332.2,409.6 1335.2,404.6 1337.9,406.3 1338.5,403.0 1340.7,399.7 1343.1,396.4 1344.3,397.7 1347.0,393.0 1350.5,393.5 1351.6,389.5 1353.3,387.7 1356.2,382.9 1356.4,383.4 1358.6,381.1 1361.3,379.3 1364.3,375.9 1366.7,376.0 1367.5,372.6 1370.1,368.8 1372.1,369.9 1375.2,369.7 1376.7,369.9 1380.7,367.5 1382.3,364.3 1384.4,363.1 1385.7,359.4 1388.4,358.0 1389.2,355.7 1392.5,355.1 1394.2,349.5 1395.5,350.0 1398.2,348.4 1400.2,343.1 1401.4,341.7 1403.3,338.7 1404.4,338.6 1406.0,330.5 1408.5,332.8 1411.6,329.8 1413.8,331.7 1415.7,326.3 1418.7,326.4 1421.9,322.9 1423.7,326.8 1426.4,323.1 1428.5,320.9 1431.6,323.9 1434.9,321.3 1437.4,320.1 1438.8,321.0 1440.8,321.5 1443.0,322.1 1445.2,323.3 1447.5,323.9 1449.8,325.7 1451.6,329.5 1454.3,332.6 1457.5,329.2 1459.5,329.4 1463.2,330.6 1465.5,332.5 1468.1,337.6 1469.5,333.5 1471.3,333.9 1472.9,328.1 1474.3,324.4 1477.6,326.2 1478.7,322.5 1481.6,320.6 1483.3,319.2 1485.0,317.0 1486.8,317.4 1487.9,314.7 1489.6,311.0 1491.8,308.6 1493.1,312.0 1494.4,311.3 1495.0,316.9 1497.8,317.8 1499.4,318.3 1500.9,320.7 1500.3,319.9 1500.2,311.0 1501.4,308.9 1501.8,307.1 1501.3,304.5 1504.2,304.5 1507.2,307.0 1510.0,309.6 1512.6,307.0 1514.3,309.9 1516.8,309.2 1516.6,313.5 1517.9,316.2 1519.9,318.0 1521.6,321.3 1523.6,322.1 1524.7,324.0 1525.3,328.7 1527.2,332.4 1527.9,334.4 1529.7,335.0 1530.6,338.0 1531.0,340.9 1531.6,346.5 1532.1,347.1 1532.6,348.8 1533.3,356.3 1532.9,356.4 1532.8,358.7 1534.1,362.5 1534.8,360.9 1536.1,366.0 1537.2,370.3 1538.4,372.3 1539.2,372.4 1541.0,369.6 1543.8,367.7 1546.9,366.9 1546.8,371.4 1548.0,373.1 1547.7,374.2 1549.1,380.7 1548.8,378.5 1548.9,383.5 1548.7,388.6 1549.6,389.7 1551.8,390.6 1552.8,395.9 1553.6,398.9 1554.3,401.6 1556.1,400.9 1555.0,407.6 1556.2,407.8 1557.1,409.7 1557.3,414.1 1557.4,418.0 1557.1,420.3 1558.1,422.0 1557.3,427.7 1558.2,425.5 1558.7,428.9 1557.7,429.9 1559.0,431.8 1558.6,436.0 1557.5,437.9 1559.3,441.4 1559.8,445.8 1559.3,446.1 1559.9,448.3 1559.4,450.5 1560.0,454.7 1559.5,455.4 1559.8,458.4 1560.9,459.9 1558.6,462.5 1560.0,466.8 1560.1,469.4 1560.3,463.4 1561.0,465.0 1560.7,461.3 1561.7,457.2 1561.7,453.9 1562.3,454.6 1562.3,450.7 1561.6,448.1 1562.5,445.5 1563.1,441.4 1564.1,442.0 1563.8,436.1 1564.0,434.2 1563.6,433.7 1564.4,431.8 1563.5,429.0 1564.7,425.3 1564.5,421.7 1565.9,421.3 1565.5,419.3 1566.5,421.7 1568.4,419.7 1570.7,422.9 1569.8,426.0 1572.3,429.1 1573.6,431.5 1573.3,434.9 1573.9,437.7 1575.0,437.1 1574.3,442.3 1576.0,444.2 1577.0,446.8 1577.2,450.7 1578.1,454.1 1579.8,454.2 1580.2,458.3 1580.9,459.7 1581.1,463.4 1582.5,467.1 1583.2,469.9 1583.0,470.7 1583.0,475.4 1585.1,474.0 1584.7,478.9 1585.5,483.2 1587.5,484.5 1587.2,489.6 1588.3,488.3 1588.4,491.5 1590.1,492.8 1591.2,496.3 1591.2,500.7 1591.5,503.1 1591.5,505.5 1592.6,507.8 1592.2,510.1 1593.2,512.8 1594.7,518.2 1594.4,522.8 1595.5,524.2 1596.4,523.9 1596.5,525.7 1599.9,528.6 1600.4,535.2 1600.9,535.1 1600.9,539.1 1601.5,538.9 1601.2,542.3 1601.4,544.1 1601.5,549.6 1605.5,549.0 1608.3,546.6 1610.3,549.5 1610.2,546.3 1611.6,541.4 1614.0,539.9 1614.2,537.2 1613.8,536.2 1615.3,531.4 1616.2,531.3 1616.1,525.7 1617.1,524.2 1617.2,521.4 1617.7,519.6 1618.1,516.7 1617.6,513.0 1618.6,512.1 1619.0,509.4 1618.4,506.7 1618.8,504.2 1620.1,499.5 1619.2,497.6 1620.1,493.3 1619.4,491.7 1620.0,488.9 1620.7,486.4 1621.0,485.2 1621.3,481.9 1621.5,481.7 1622.6,476.0 1622.2,475.2 1622.3,471.0 1622.4,470.4 1622.5,465.6 1623.3,464.0 1623.1,460.0 1623.0,457.6 1623.9,453.8 1625.8,452.9 1624.3,448.6 1625.4,447.0 1625.4,445.5 1626.5,441.8 1626.0,439.0 1628.1,435.3 1629.9,436.1 1629.2,431.8 1630.3,428.4 1631.3,428.4 1632.3,424.2 1632.6,422.4 1633.1,418.2 1633.2,413.2 1633.2,413.1 1632.9,411.1 1634.3,404.8 1633.3,404.5 1633.5,400.8 1633.9,401.4 1633.3,396.3 1635.2,396.3 1634.3,391.7 1636.0,394.9 1634.8,398.1 1634.5,400.7 1635.6,401.0 1634.8,406.1 1636.5,408.5 1636.6,409.1 1636.5,413.5 1636.4,416.2 1637.7,421.0 1636.8,421.8 1637.9,422.0 1636.9,426.3 1637.8,430.3 1638.3,434.1 1637.3,436.3 1638.5,437.8 1638.8,439.6 1638.8,442.6 1639.1,444.7 1640.3,443.2 1640.5,451.0 1640.1,453.2 1640.2,454.8 1641.4,457.9 1641.3,464.3 1641.0,463.4 1641.4,467.3 1642.8,469.4 1642.4,471.4 1642.7,474.4 1642.3,476.9 1643.3,477.7 1642.5,483.8 1642.3,484.8 1643.1,486.6 1642.9,492.5 1643.1,492.4 1644.1,496.3 1643.5,496.8 1642.5,500.0 1644.1,505.6 1644.1,508.0 1643.1,507.2 1644.4,512.7 1644.3,512.3 1645.1,516.4 1644.6,520.7 1645.0,520.0 1645.1,523.9 1644.4,527.1 1645.3,533.1 1645.0,531.9 1645.6,534.7 1645.7,537.6 1645.0,542.4 1645.0,542.6 1645.0,544.8 1646.1,548.8 1644.9,549.6 1644.2,554.2 1644.6,557.1 1644.9,558.8 1645.0,562.3 1645.1,563.8 1644.3,568.7 1644.5,568.7 1646.2,573.1 1646.2,575.6 1645.6,576.0 1646.4,579.6 1646.3,583.6 1647.3,584.8 1647.1,589.4 1647.7,589.2 1648.3,590.1 1648.2,595.3 1648.9,598.9 1648.3,599.6 1648.5,603.5 1648.5,604.2 1650.4,611.0 1649.4,611.5 1649.9,613.2 1649.8,615.5 1650.7,621.1 1651.2,623.2 1651.4,626.1 1651.2,624.8 1651.4,629.9 1652.2,632.8 1653.7,633.5 1654.3,637.5 1655.4,639.9 1655.0,644.3 1655.8,644.8 1655.6,646.8 1657.7,649.0 1656.7,654.0 1660.3,653.5 1661.1,658.0 1660.7,660.7 1660.9,661.5 1663.4,666.9 1665.3,672.1 1666.1,673.5 1669.6,676.8 1669.8,674.6 1671.0,671.9 1673.5,666.1 1674.6,663.4 1674.7,662.5 1676.2,658.9 1677.6,659.3 1680.0,657.9 1680.7,650.6 1680.6,650.5 1681.6,648.6 1683.6,646.8 1684.7,642.4 1685.0,640.5 1685.6,636.8 1687.4,634.5 1687.8,632.8 1689.6,632.6 1692.4,628.0 1693.9,625.4 1694.8,622.6 1697.5,622.4 1697.7,620.5 1699.8,620.1 1702.6,615.5 1703.4,615.6 1705.5,612.4 1708.3,610.7 1711.1,611.1 1713.9,610.1 1715.7,608.7 1718.1,608.1 1721.4,609.1 1725.2,608.1 1726.7,606.6 1729.1,607.2 1732.0,607.7 1734.9,607.8 1737.6,606.2 1740.7,604.8 1742.2,605.5 1745.4,599.2 1748.7,601.7 1750.8,600.3 1753.5,600.4 1755.7,600.4 1758.5,598.6 1761.2,596.0 1763.6,600.0 1765.1,601.5 1767.1,604.4 1769.7,605.2 1772.2,607.2 1774.5,607.1 1777.0,603.0 1779.3,602.1 1781.9,602.1 1784.8,600.4 1787.5,597.1 1791.1,595.6 1792.3,592.3 1794.7,590.7 1797.0,590.4 1799.2,586.9 1801.2,585.9 1803.0,588.5 1805.0,587.7 1806.2,587.7 1810.3,588.1 1811.5,593.0" fill="none" stroke="#00f" stroke-width="9" stroke-linejoin="round" shape-rendering="crispEdges" stroke-dasharray="30 6.3 15.5 6.3"/><polyline points="289.1,641.3 290.0,641.8 291.9,646.7 292.6,648.0 293.6,653.3 294.8,651.9 298.0,652.5 302.0,648.2 303.4,651.0 304.8,654.6 306.5,653.5 308.2,650.5 309.0,649.2 310.4,644.9 311.2,644.1 310.5,640.0 312.6,639.2 312.7,641.1 313.8,643.9 313.4,644.4 314.9,647.4 313.9,651.8 313.2,654.4 310.8,658.0 311.2,659.9 308.7,662.1 307.4,668.5 305.6,670.6 305.4,672.3 306.5,674.3 306.2,676.2 304.7,678.3 304.9,681.8 306.0,685.8 304.6,690.5 304.5,690.1 304.8,695.8 303.9,694.4 304.7,696.8 304.8,693.3 306.0,687.7 307.0,683.8 308.0,683.3 307.5,682.6 308.0,677.4 309.1,675.2 309.4,671.1 309.4,669.2 310.6,667.1 312.0,665.7 312.6,662.1 311.6,658.8 313.8,658.1 313.9,655.4 314.8,655.5 315.3,658.8 316.7,663.5 318.5,665.0 319.7,667.6 319.7,667.6 320.2,673.5 319.8,675.2 321.2,680.6 321.1,680.5 321.6,686.1 321.6,686.6 321.9,690.3 321.1,692.4 321.5,696.6 322.5,701.3 322.0,701.2 323.2,703.6 322.9,706.5 323.3,712.4 323.4,713.8 324.4,716.6 325.4,720.1 324.7,723.2 324.9,722.0 324.4,727.9 323.8,732.2 324.4,733.1 324.8,735.1 324.4,736.9 325.1,738.4 323.2,743.3 324.1,746.1 324.2,746.8 324.3,752.6 325.4,753.6 325.9,758.3 324.3,759.3 324.9,762.9 325.3,769.3 323.4,767.0 324.8,765.8 325.0,765.2 324.4,759.7 324.6,758.3 325.0,755.6 326.9,753.7 325.3,751.7 325.7,746.9 325.9,744.8 326.2,742.9 326.8,740.9 326.2,734.8 328.0,730.9 327.7,730.1 327.3,729.2 327.7,727.4 327.3,724.6 328.6,721.5 330.7,721.8 330.5,717.7 329.6,714.2 331.9,709.6 331.8,708.8 333.0,707.1 332.4,703.5 332.4,700.7 333.0,697.4 332.7,694.4 332.4,692.3 333.6,687.9 333.4,686.4 333.1,683.7 333.8,681.2 333.9,676.3 333.9,673.5 334.0,670.4 335.2,666.9 332.6,664.8 334.1,662.1 335.0,659.8 335.5,656.1 335.7,654.6 336.9,654.2 338.4,649.9 340.4,651.6 343.0,650.2 342.5,657.3 343.4,656.8 344.3,659.4 344.7,666.9 345.0,668.0 344.4,670.8 345.5,672.7 346.1,673.7 344.9,676.6 345.7,680.2 346.1,685.7 347.9,681.7 346.9,680.0 348.8,676.1 349.4,675.4 351.1,674.6 350.7,669.2 352.7,667.0 353.2,664.4 354.0,666.0 355.4,664.7 355.2,670.0 356.0,671.2 357.5,675.1 359.9,678.7 359.4,678.9 361.6,681.3 363.0,682.0 363.4,687.0 363.5,689.6 364.2,690.8 364.2,693.5 364.1,697.3 364.9,700.3 366.0,701.9 365.4,704.2 366.6,708.9 367.1,707.5 366.2,713.5 365.6,717.6 369.4,718.7 371.4,719.4 373.7,722.6 375.5,721.6 379.1,724.9 380.3,727.7 382.1,728.1 385.2,731.6 386.3,727.7 387.1,725.2 387.4,720.7 387.0,720.1 389.1,720.9 390.0,714.2 391.9,712.1 394.4,708.6 396.7,709.8 396.0,702.9 396.8,702.8 398.4,700.1 399.2,697.0 400.1,696.0 401.0,689.2 401.0,687.7 401.8,683.6 402.8,684.1 403.1,680.4 404.6,677.6 404.7,674.1 407.3,673.1 407.9,671.5 408.7,666.7 409.6,667.9 410.0,661.2 412.3,658.0 412.9,656.6 413.6,653.6 414.5,651.1 415.3,647.4 415.9,646.5 417.1,646.2 418.0,641.0 418.6,640.0 419.3,636.0 420.1,634.4 421.1,634.4 422.2,630.0 422.2,627.2 423.6,624.8 423.7,620.8 426.3,618.4 426.2,615.8 428.3,611.7 429.2,611.5 429.9,607.4 432.5,604.4 433.5,600.9 435.8,601.1 437.5,597.4 437.1,598.8 437.9,596.6 438.9,590.8 440.1,589.7 439.6,587.6 440.5,581.6 441.7,581.8 442.7,579.3 444.8,577.5 446.0,575.7 446.2,573.2 448.8,571.2 448.8,568.5 450.8,565.1 453.0,562.4 455.4,561.7 456.5,560.3 458.7,556.7 459.5,555.5 460.9,554.2 461.8,549.0 464.5,547.8 462.9,544.0 464.3,541.9 466.5,537.7 467.5,535.4 468.4,538.4 471.8,532.5 471.2,527.4 473.5,527.5 474.9,525.8 477.0,525.3 478.0,522.5 478.8,520.5 481.1,517.3 483.6,515.9 483.9,512.1 487.6,510.0 488.8,505.5 491.2,506.5 491.7,505.4 493.9,501.2 496.2,498.2 497.7,497.3 498.8,495.8 500.7,495.4 501.4,489.9 503.1,486.3 505.6,485.3 505.6,481.8 506.8,481.1 508.5,477.4 510.6,477.9 511.1,471.6 513.2,472.8 514.0,468.7 515.5,471.3 516.7,464.1 519.0,463.9 520.5,460.6 522.8,460.3 523.1,456.9 523.5,456.2 527.3,454.5 528.0,452.9 530.4,449.7 532.8,450.8 534.0,448.9 536.1,450.9 538.2,451.9 539.9,456.4 541.9,458.2 543.7,459.7 545.2,461.5 547.5,459.2 549.1,461.4 551.9,460.9 553.2,457.1 555.6,454.0 556.4,449.5 557.6,449.4 558.3,448.2 561.4,444.6 562.8,441.8 563.6,440.4 566.3,433.4 567.0,435.2 568.5,429.5 569.4,430.6 571.1,427.0 571.6,426.4 573.8,423.9 575.5,418.8 577.5,418.3 578.1,413.3 579.0,411.4 580.1,411.6 581.5,406.3 583.9,402.6 584.7,403.1 586.0,400.0 588.2,399.9 589.9,396.8 592.2,394.6 595.0,392.0 595.9,391.7 599.2,389.7 600.7,387.3 601.9,385.4 604.4,382.8 605.3,382.4 607.8,380.0 609.4,375.2 610.1,373.0 612.5,374.1 614.8,366.9 615.4,367.2 617.9,366.5 620.2,362.1 621.7,360.3 622.9,357.6 626.6,355.9 628.7,356.8 629.5,353.6 630.8,349.6 633.0,350.4 634.1,347.8 636.8,342.2 637.9,343.3 640.5,340.4 642.8,337.1 642.9,337.7 645.5,335.8 647.0,333.9 649.2,329.5 651.0,329.1 652.9,324.4 654.4,324.4 656.8,322.1 659.2,318.2 660.6,317.5 662.6,316.6 662.8,313.0 664.3,310.3 666.7,307.3 667.7,305.8 669.3,305.7 672.1,300.3 674.2,303.5 676.2,299.4 681.2,298.8 683.3,300.0 687.9,300.4 690.5,302.0 690.7,299.2 690.8,295.5 691.5,292.7 691.3,290.8 692.4,287.1 692.7,284.8 693.6,282.6 694.1,282.8 695.5,274.9 695.4,273.8 697.5,272.7 698.4,269.5 699.9,266.5 700.7,262.6 701.8,260.1 703.1,261.8 703.5,255.0 704.8,254.0 706.6,256.1 707.9,252.7 707.9,249.5 710.9,245.0 712.2,246.9 713.4,242.6 716.0,240.3 716.5,235.7 718.2,236.6 719.5,235.1 719.6,231.8 721.9,229.3 722.1,226.4 722.8,225.2 726.5,221.3 728.5,218.8 731.5,219.1 735.0,223.3 737.8,220.9 738.3,221.9 740.7,226.7 743.7,229.1 745.4,230.4 747.3,232.7 750.6,231.9 752.1,230.6 754.1,230.6 757.9,230.2 760.1,228.3 762.1,228.2 764.1,223.8 765.2,223.9 768.3,219.5 770.7,221.0 772.2,218.3 773.8,216.3 777.0,214.9 777.6,210.4 778.9,207.9 780.8,206.5 782.7,204.6 783.8,202.6 785.2,201.6 786.5,201.2 786.0,197.0 788.1,196.6 789.0,191.0 789.4,186.2 791.0,185.8 790.9,182.8 793.3,183.2 794.6,181.8 797.3,177.8 799.2,175.6 800.9,172.0 802.9,171.3 805.4,171.6 807.7,174.3 811.5,175.8 812.7,177.4 814.1,175.5 814.3,170.7 814.6,168.4 815.6,166.0 815.3,164.0 816.5,162.0 816.7,157.7 818.1,154.8 817.5,153.0 818.9,149.7 819.2,147.9 819.6,145.5 818.6,142.7 818.7,140.3 819.2,138.2 818.6,134.8 822.0,135.4 823.8,139.4 828.1,137.0 829.9,136.8 832.1,138.2 834.0,135.5 835.7,132.5 837.8,131.3 840.5,130.1 841.9,126.7 841.6,125.1 843.2,122.1 843.7,119.4 845.3,115.3 844.0,113.7 844.9,109.0 847.2,112.5 847.3,113.9 850.6,117.6 851.4,119.8 853.8,119.9 855.7,118.7 857.8,118.4 860.4,117.2 863.1,117.9 867.1,114.7 867.7,115.9 871.8,120.4 874.8,118.0 875.9,115.9 875.8,111.7 877.8,110.9 878.7,108.0 881.6,107.0 883.9,108.4 886.0,104.6 888.1,102.2 890.4,99.9 893.9,100.7 894.8,100.1 899.4,98.0 900.9,93.7 903.9,97.1 904.6,94.3 907.8,92.1 908.4,90.2 911.3,85.7 914.0,89.6 916.4,87.5 919.2,88.9 920.5,88.2 925.0,87.6 927.9,85.8 930.3,85.4 932.8,82.9 935.3,83.9 935.2,93.3 936.4,90.6 937.7,95.0 938.5,100.9 938.5,101.4 938.8,101.7 938.4,105.8 939.5,112.2 939.7,112.0 940.6,112.7 940.5,115.5 941.4,113.6 941.2,109.3 941.8,110.3 942.4,104.4 943.4,100.2 943.0,101.3 944.4,98.8 945.6,94.5 947.6,92.0 950.9,89.0 951.5,92.5 952.7,96.3 954.0,98.8 954.6,100.4 956.5,104.0 956.6,102.2 959.4,105.8 960.1,109.6 962.0,112.2 963.5,115.0 963.7,114.9 965.0,118.4 967.1,120.4 968.9,124.1 969.3,125.4 972.2,126.6 975.3,126.7 978.0,131.6 979.3,129.8 979.9,132.8 981.8,136.5 982.1,139.3 983.5,143.9 985.3,141.0 986.7,138.0 988.9,138.6 991.0,135.9 991.1,135.4 992.7,131.0 994.2,134.8 996.5,135.5 997.0,140.1 997.7,140.8 1000.1,141.7 1000.7,142.4 1001.9,149.4 1005.2,149.6 1006.0,152.0 1008.1,154.0 1009.1,154.3 1009.6,160.5 1010.1,159.0 1010.6,163.0 1010.4,165.5 1012.0,168.7 1012.4,170.1 1012.0,175.1 1013.5,174.3 1013.4,177.6 1014.4,183.0 1015.4,185.2 1015.1,189.0 1016.2,191.6 1016.7,193.1 1016.7,195.2 1017.4,198.4 1018.3,201.0 1019.1,205.3 1018.9,207.8 1018.8,207.7 1019.4,209.7 1020.3,212.4 1020.5,217.2 1021.4,220.3 1021.9,222.5 1022.7,226.3 1023.3,225.3 1024.8,230.4 1025.5,233.1 1025.7,235.3 1027.3,238.6 1028.4,238.7 1028.9,242.4 1031.7,245.5 1031.7,248.3 1033.5,248.5 1035.7,252.1 1038.1,253.6 1037.6,256.4 1039.4,259.9 1041.0,259.4 1041.9,260.7 1043.1,266.0 1044.8,268.2 1045.4,269.4 1047.2,272.8 1048.6,274.9 1048.0,279.9 1049.0,281.9 1049.2,282.6 1050.6,283.4 1052.7,285.8 1053.0,291.0 1052.1,291.6 1054.4,297.1 1056.3,299.1 1056.2,300.4 1057.5,305.2 1058.4,305.0 1059.0,309.3 1059.9,312.9 1060.3,315.2 1060.4,316.7 1060.2,319.7 1060.7,324.1 1061.6,325.0 1060.8,329.1 1064.0,331.9 1066.4,335.4 1067.0,335.6 1066.6,340.0 1068.4,340.9 1068.7,346.2 1069.8,346.8 1070.8,349.0 1070.0,351.7 1070.9,354.2 1071.3,359.9 1072.0,357.7 1073.3,363.9 1072.6,365.6 1072.9,369.6 1074.4,371.5 1077.8,372.5 1078.6,374.6 1080.2,376.8 1082.9,379.6 1083.1,379.7 1084.5,385.1 1085.6,388.0 1086.8,389.0 1088.0,389.1 1088.2,395.6 1089.1,396.8 1090.4,399.7 1092.4,401.8 1092.3,404.8 1093.4,408.8 1095.4,411.3 1097.4,411.5 1098.7,414.9 1099.3,416.9 1100.4,416.5 1101.1,419.5 1102.9,424.4 1103.9,426.9 1105.4,428.2 1106.4,432.9 1106.8,434.5 1107.8,437.9 1108.8,438.8 1109.8,442.6 1111.8,444.9 1112.5,445.1 1113.8,447.1 1114.4,451.5 1116.4,453.1 1118.7,455.6 1120.0,457.2 1121.3,459.8 1121.0,464.2 1122.9,465.9 1123.9,468.8 1124.4,469.2 1126.0,474.5 1128.1,474.3 1128.5,477.5 1129.1,480.9 1131.9,482.2 1131.9,484.0 1134.7,487.2 1136.9,488.8 1138.2,490.6 1141.4,491.3 1143.4,495.1 1146.0,492.6 1147.4,498.3 1148.7,498.7 1150.1,502.3 1150.6,501.7 1150.7,507.5 1152.7,506.8 1154.1,514.9 1155.6,513.9 1158.2,513.0 1159.6,517.3 1161.7,516.7 1163.5,519.0 1167.3,516.6 1169.1,523.0 1172.1,523.5 1175.3,524.7 1176.0,527.5 1179.1,530.4 1180.4,529.5 1183.3,530.9 1185.0,532.5 1187.4,534.0 1190.8,537.2 1194.0,537.3 1195.4,538.4 1198.3,540.5 1202.3,538.7 1203.2,535.7 1203.7,535.9 1206.2,532.9 1207.9,531.7 1209.0,527.8 1210.4,527.9 1212.3,526.0 1213.2,525.4 1213.8,518.6 1216.1,516.1 1218.7,514.5 1220.9,509.9 1222.5,509.3 1224.8,508.0 1227.5,505.8 1228.6,504.1 1229.6,501.4 1232.5,502.5 1233.8,496.9 1235.9,496.8 1238.5,494.1 1240.5,493.0 1242.0,490.6 1245.2,490.1 1247.3,489.3 1248.3,488.3 1252.3,488.6 1254.5,484.2 1254.3,484.2 1256.6,479.7 1258.5,477.2 1260.1,475.8 1262.1,473.8 1265.6,470.7 1267.5,475.9 1270.3,472.3 1272.0,469.6 1275.9,469.9 1277.8,469.3 1281.1,466.6 1283.1,465.5 1285.5,465.2 1289.4,463.0 1289.5,463.3 1293.7,460.5 1295.0,458.4 1297.1,457.7 1299.5,452.3 1301.5,453.8 1304.9,452.8 1307.9,450.5 1308.8,448.1 1310.5,445.9 1312.3,441.5 1313.4,442.7 1316.0,440.5 1317.1,437.1 1320.6,433.7 1321.3,434.9 1324.8,432.4 1325.6,431.2 1328.4,432.9 1330.1,430.5 1331.8,425.7 1333.9,423.6 1335.5,419.9 1338.1,416.5 1339.1,418.0 1341.1,415.6 1342.6,412.4 1345.8,410.8 1346.8,409.1 1348.5,405.4 1350.5,405.2 1353.5,401.7 1356.6,400.6 1357.3,399.3 1359.1,394.5 1360.7,391.4 1361.1,390.1 1362.5,386.9 1364.3,386.6 1364.6,384.9 1366.5,378.9 1368.3,379.6 1370.5,378.3 1371.1,376.8 1373.2,370.5 1375.3,370.6 1377.0,368.2 1378.6,368.1 1380.5,365.0 1382.2,363.6 1385.0,362.0 1388.4,361.2 1389.4,356.2 1389.7,355.4 1393.3,350.9 1394.9,351.3 1398.3,349.2 1400.0,348.4 1401.5,342.7 1402.6,343.9 1403.3,340.0 1404.9,336.2 1409.0,334.8 1409.8,334.9 1411.1,330.1 1413.1,330.7 1415.5,327.3 1418.2,327.7 1421.4,327.5 1424.8,326.7 1426.8,327.0 1429.0,327.4 1431.3,323.4 1435.8,323.8 1437.7,325.1 1440.1,322.1 1441.2,320.2 1443.1,320.2 1446.4,317.8 1449.0,316.1 1452.0,318.3 1454.5,316.4 1457.1,315.0 1459.9,314.3 1462.1,313.5 1465.1,307.6 1468.6,309.3 1470.0,307.5 1473.2,307.6 1475.9,307.6 1478.6,305.3 1480.0,303.6 1484.3,300.7 1486.3,298.5 1489.4,298.2 1491.3,294.1 1492.3,291.6 1494.5,290.7 1496.4,289.1 1497.2,286.1 1498.5,283.2 1501.7,280.3 1501.6,278.7 1503.5,273.4 1503.9,271.7 1506.8,269.6 1507.7,266.1 1509.5,265.9 1511.1,263.7 1511.9,261.1 1514.9,262.6 1517.6,258.8 1518.5,260.8 1518.5,264.5 1519.5,268.6 1519.8,270.7 1521.6,275.0 1523.6,269.4 1525.2,267.6 1527.3,272.1 1528.0,273.8 1530.2,275.6 1529.9,276.1 1531.7,280.9 1533.4,283.9 1534.6,286.3 1535.7,288.0 1537.6,285.7 1538.2,286.4 1539.7,279.9 1541.2,276.2 1541.3,273.3 1544.7,273.1 1547.6,273.2 1548.5,276.3 1548.5,276.6 1550.8,279.6 1550.6,283.3 1551.7,283.7 1552.2,290.5 1555.6,289.2 1557.7,291.5 1560.0,295.4 1559.9,297.9 1562.7,302.3 1562.5,303.2 1562.9,306.0 1563.2,307.3 1564.3,311.3 1565.7,311.2 1563.9,317.1 1565.6,318.3 1564.9,320.6 1566.8,323.1 1566.4,326.6 1566.5,326.4 1568.8,329.8 1569.6,333.2 1570.7,334.5 1571.5,340.6 1573.8,341.0 1573.9,342.7 1576.7,344.2 1579.2,352.5 1582.1,349.7 1582.8,353.7 1584.8,355.5 1587.5,358.9 1589.9,358.1 1591.6,359.9 1592.0,362.8 1594.3,362.2 1595.7,364.5 1597.6,367.8 1597.5,372.6 1598.2,373.1 1598.4,376.8 1598.4,378.4 1600.0,380.4 1599.8,386.4 1600.2,386.5 1601.3,386.3 1601.5,392.4 1603.1,393.5 1603.3,398.7 1605.5,399.9 1605.4,402.3 1605.6,403.9 1607.6,409.1 1607.1,410.8 1607.4,413.5 1609.3,416.3 1608.0,420.1 1608.9,421.2 1609.7,424.6 1610.5,426.7 1610.9,430.3 1611.0,434.8 1613.2,436.4 1613.3,438.4 1614.8,438.4 1614.4,441.3 1615.8,444.3 1616.2,445.3 1617.3,452.1 1617.5,452.8 1617.6,455.3 1618.8,456.9 1618.6,460.7 1618.7,461.5 1619.7,466.3 1619.8,470.4 1620.9,472.0 1620.4,474.2 1621.4,476.1 1621.7,478.8 1622.7,482.2 1623.0,483.9 1624.2,489.2 1622.9,491.4 1624.9,489.6 1624.9,495.6 1625.5,497.2 1625.9,499.4 1628.3,504.0 1629.6,507.5 1630.2,509.4 1631.2,509.4 1633.1,513.2 1633.4,515.2 1635.4,518.2 1636.3,524.1 1637.6,522.9 1639.1,526.9 1640.5,528.5 1642.2,531.6 1642.5,532.4 1644.2,533.0 1646.7,536.7 1646.7,541.0 1648.8,543.9 1651.3,545.3 1651.2,549.4 1653.6,549.5 1654.9,553.4 1656.7,556.6 1658.5,555.5 1660.3,557.6 1661.7,560.3 1664.6,562.2 1666.9,562.3 1668.4,566.5 1670.4,567.8 1672.3,570.3 1674.2,573.0 1674.9,574.1 1677.4,577.0 1679.2,577.2 1681.6,579.5 1684.5,580.5 1688.2,579.3 1689.7,580.9 1691.9,580.6 1695.8,576.9 1696.9,578.7 1700.2,577.3 1702.2,577.8 1705.9,577.1 1707.4,577.8 1711.3,578.0 1713.5,575.7 1716.2,575.0 1718.8,574.2 1722.6,571.9 1724.5,570.5 1726.5,570.3 1729.2,567.2 1731.9,566.9 1735.2,568.8 1736.8,567.4 1739.1,564.1 1741.2,561.7 1743.7,558.7 1744.7,556.0 1747.9,555.4 1748.5,555.6 1751.3,549.6 1753.4,548.6 1755.5,549.2 1756.0,546.5 1757.9,543.7 1758.3,547.4 1760.5,546.8 1760.9,549.8 1759.7,555.2 1761.4,556.3 1760.5,560.6 1762.3,554.0 1762.3,555.3 1762.0,549.2 1762.7,550.6 1763.2,545.2 1763.5,542.6 1763.7,538.7 1764.4,536.2 1765.3,536.0 1767.4,532.4 1766.8,530.8 1768.7,525.6 1771.7,526.5 1776.2,526.1 1776.5,527.0 1778.9,526.1 1781.5,523.4 1782.9,522.0 1783.2,519.9 1783.2,519.4 1787.2,515.7 1790.1,516.8 1792.1,517.2 1792.3,519.1 1794.2,523.2 1794.1,526.9 1795.8,531.0 1796.2,530.1 1798.4,532.2 1800.7,530.8 1802.3,526.8 1803.6,527.5 1805.7,522.2 1808.6,522.8 1811.5,521.6" fill="none" stroke="#0f0" stroke-width="9" stroke-linejoin="round" shape-rendering="crispEdges" stroke-dasharray="8 6.56"/></g>
<g stroke="#222" stroke-width="3" fill="none"><line x1="225.5" y1="1196.0" x2="225.5" y2="1179.0"/><line x1="225.5" y1="57.5" x2="225.5" y2="74.5"/><line x1="423.6" y1="1196.0" x2="423.6" y2="1179.0"/><line x1="423.6" y1="57.5" x2="423.6" y2="74.5"/><line x1="621.8" y1="1196.0" x2="621.8" y2="1179.0"/><line x1="621.8" y1="57.5" x2="621.8" y2="74.5"/><line x1="819.9" y1="1196.0" x2="819.9" y2="1179.0"/><line x1="819.9" y1="57.5" x2="819.9" y2="74.5"/><line x1="1018.0" y1="1196.0" x2="1018.0" y2="1179.0"/><line x1="1018.0" y1="57.5" x2="1018.0" y2="74.5"/><line x1="1216.1" y1="1196.0" x2="1216.1" y2="1179.0"/><line x1="1216.1" y1="57.5" x2="1216.1" y2="74.5"/><line x1="1414.2" y1="1196.0" x2="1414.2" y2="1179.0"/><line x1="1414.2" y1="57.5" x2="1414.2" y2="74.5"/><line x1="1612.4" y1="1196.0" x2="1612.4" y2="1179.0"/><line x1="1612.4" y1="57.5" x2="1612.4" y2="74.5"/><line x1="1810.5" y1="1196.0" x2="1810.5" y2="1179.0"/><line x1="1810.5" y1="57.5" x2="1810.5" y2="74.5"/><line x1="225.5" y1="1196.0" x2="242.5" y2="1196.0"/><line x1="1810.5" y1="1196.0" x2="1793.5" y2="1196.0"/><line x1="225.5" y1="1033.4" x2="242.5" y2="1033.4"/><line x1="1810.5" y1="1033.4" x2="1793.5" y2="1033.4"/><line x1="225.5" y1="870.7" x2="242.5" y2="870.7"/><line x1="1810.5" y1="870.7" x2="1793.5" y2="870.7"/><line x1="225.5" y1="708.1" x2="242.5" y2="708.1"/><line x1="1810.5" y1="708.1" x2="1793.5" y2="708.1"/><line x1="225.5" y1="545.4" x2="242.5" y2="545.4"/><line x1="1810.5" y1="545.4" x2="1793.5" y2="545.4"/><line x1="225.5" y1="382.8" x2="242.5" y2="382.8"/><line x1="1810.5" y1="382.8" x2="1793.5" y2="382.8"/><line x1="225.5" y1="220.1" x2="242.5" y2="220.1"/><line x1="1810.5" y1="220.1" x2="1793.5" y2="220.1"/><line x1="225.5" y1="57.5" x2="242.5" y2="57.5"/><line x1="1810.5" y1="57.5" x2="1793.5" y2="57.5"/><rect x="225.5" y="57.5" width="1585.0" height="1138.5"/></g>
<g font-family="Liberation Serif, serif" font-weight="bold" font-size="73" fill="#262626"><text x="225.5" y="1283.0" text-anchor="middle">0</text><text x="423.6" y="1283.0" text-anchor="middle">200</text><text x="621.8" y="1283.0" text-anchor="middle">400</text><text x="819.9" y="1283.0" text-anchor="middle">600</text><text x="1018.0" y="1283.0" text-anchor="middle">800</text><text x="1216.1" y="1283.0" text-anchor="middle">1000</text><text x="1414.2" y="1283.0" text-anchor="middle">1200</text><text x="1612.4" y="1283.0" text-anchor="middle">1400</text><text x="1810.5" y="1283.0" text-anchor="middle">1600</text><text x="203.4" y="1221.0" text-anchor="end">14</text><text x="203.4" y="1058.4" text-anchor="end">18</text><text x="203.4" y="895.7" text-anchor="end">22</text><text x="203.4" y="733.1" text-anchor="end">26</text><text x="203.4" y="570.4" text-anchor="end">30</text><text x="203.4" y="407.8" text-anchor="end">34</text><text x="203.4" y="245.1" text-anchor="end">38</text><text x="203.4" y="82.5" text-anchor="end">42</text></g>
<rect x="1124.8" y="1003" width="664.5" height="172" fill="#fff" stroke="#000" stroke-width="2"/><line x1="1135" y1="1048.3" x2="1245" y2="1048.3" stroke="#f00" stroke-width="9"/><text x="1251.5" y="1073.1" font-family="Liberation Serif, serif" font-weight="bold" font-size="72" fill="#000">10mm</text><line x1="1466.7" y1="1048.6" x2="1576.9" y2="1048.6" stroke="#000" stroke-width="9" stroke-dasharray="30.3 27.8"/><text x="1582.8" y="1073.1" font-family="Liberation Serif, serif" font-weight="bold" font-size="72" fill="#000">15mm</text><line x1="1135" y1="1130.5" x2="1245" y2="1130.5" stroke="#00f" stroke-width="9" stroke-dasharray="30 6.2 15.6 6.2"/><text x="1251.5" y="1155.2" font-family="Liberation Serif, serif" font-weight="bold" font-size="72" fill="#000">20mm</text><line x1="1466.7" y1="1130.4" x2="1576.9" y2="1130.4" stroke="#0f0" stroke-width="9" stroke-dasharray="8 6.56"/><text x="1582.8" y="1155.2" font-family="Liberation Serif, serif" font-weight="bold" font-size="72" fill="#000">25mm</text>
<g><polyline points="289.8,2634.4 293.0,2630.6 294.3,2628.7 295.4,2626.9 294.7,2624.0 294.6,2619.6 295.6,2618.3 296.2,2615.0 297.0,2612.0 295.6,2610.1 297.5,2606.4 299.2,2604.2 298.9,2603.8 301.0,2600.4 304.0,2596.0 303.4,2593.8 304.2,2591.1 304.9,2589.2 304.5,2585.6 305.9,2583.5 306.8,2580.8 306.1,2579.6 306.3,2575.4 307.7,2578.3 307.8,2580.9 308.2,2585.6 308.6,2587.6 308.6,2590.3 309.3,2591.6 308.9,2596.3 309.2,2597.2 308.9,2600.8 309.4,2603.1 310.8,2599.7 310.2,2596.9 310.8,2594.0 311.6,2592.7 311.6,2589.7 312.2,2586.4 313.7,2584.3 313.4,2583.4 313.1,2578.5 314.6,2574.6 315.0,2575.4 315.3,2570.1 316.8,2571.8 317.8,2573.5 319.4,2579.4 320.5,2582.4 320.5,2578.3 320.3,2578.0 321.4,2572.8 321.9,2574.0 321.4,2566.9 322.1,2566.1 322.2,2563.3 322.8,2559.6 322.8,2553.3 323.2,2555.9 325.7,2552.9 328.6,2552.6 331.1,2551.0 331.5,2545.8 333.5,2544.5 334.6,2542.3 336.2,2537.9 337.1,2534.1 336.2,2532.6 337.0,2534.0 337.8,2528.2 337.0,2526.2 338.8,2522.4 339.1,2518.9 338.7,2517.3 340.0,2513.8 342.3,2513.9 344.1,2510.4 344.1,2506.5 345.8,2504.2 348.5,2499.6 348.9,2498.5 351.6,2498.5 352.6,2492.4 354.3,2491.7 356.2,2489.9 357.4,2485.1 359.9,2483.3 360.6,2479.0 361.9,2479.1 363.2,2475.4 364.8,2472.3 365.7,2470.3 367.2,2470.2 367.4,2465.7 368.5,2460.9 370.3,2461.0 370.9,2460.5 372.7,2455.1 373.7,2452.8 376.1,2447.9 376.2,2445.3 378.0,2444.5 379.0,2444.3 381.5,2441.9 383.9,2437.5 385.3,2435.3 387.2,2430.8 388.9,2430.7 390.7,2427.2 391.4,2426.0 393.0,2423.6 393.8,2421.4 394.5,2418.0 398.0,2417.6 400.1,2419.0 402.4,2421.9 403.8,2420.4 403.6,2414.8 403.5,2413.5 404.4,2409.8 406.2,2405.7 406.0,2404.8 407.0,2401.1 409.9,2401.2 413.4,2400.7 413.3,2394.1 415.8,2392.1 417.7,2393.2 419.0,2390.7 420.2,2386.0 422.1,2382.8 424.1,2383.5 425.4,2380.1 427.9,2382.7 431.2,2387.5 431.0,2385.6 433.0,2391.5 431.8,2394.3 433.2,2396.8 434.0,2398.5 435.4,2403.6 436.0,2404.6 436.0,2406.3 436.2,2411.3 437.8,2411.7 437.4,2414.9 437.7,2417.0 438.8,2421.0 439.6,2420.3 441.9,2419.4 444.8,2418.6 446.5,2414.1 447.1,2413.7 447.5,2408.7 448.3,2407.7 449.7,2403.5 448.7,2402.2 450.1,2398.7 450.6,2394.7 452.0,2393.0 452.5,2392.3 453.7,2387.9 453.4,2386.2 455.7,2385.3 458.6,2381.6 460.7,2379.9 461.8,2377.5 462.2,2373.4 463.6,2372.6 465.7,2369.5 465.1,2366.9 468.6,2365.1 470.9,2364.5 473.4,2367.2 475.6,2364.1 479.3,2357.6 481.4,2360.0 483.5,2354.9 483.7,2354.4 483.3,2350.2 484.0,2349.6 486.5,2346.6 490.2,2345.1 492.8,2345.8 492.9,2343.1 495.2,2338.0 497.3,2335.2 497.5,2336.1 500.4,2332.3 503.6,2330.1 504.8,2326.9 508.2,2328.2 508.6,2327.7 510.6,2321.9 511.7,2318.2 513.6,2318.3 516.7,2315.3 518.8,2314.5 521.6,2309.7 524.3,2311.1 526.8,2310.1 529.5,2310.9 530.2,2305.1 531.9,2305.2 532.4,2300.7 533.3,2295.7 534.4,2297.3 535.8,2292.0 538.6,2292.3 539.2,2290.9 540.5,2287.0 541.6,2282.4 544.0,2284.7 544.9,2282.5 546.5,2278.8 547.5,2273.3 549.6,2273.4 550.6,2266.6 551.4,2269.5 553.3,2263.3 556.2,2260.0 558.6,2260.2 561.2,2258.9 563.4,2255.3 565.8,2252.8 569.6,2251.6 571.0,2248.0 570.7,2250.6 572.7,2247.7 574.0,2242.4 575.9,2239.7 577.5,2236.5 578.1,2236.5 580.2,2234.7 582.2,2234.5 584.7,2232.0 587.6,2228.0 590.4,2227.6 593.0,2224.7 592.5,2220.9 594.0,2218.1 595.9,2217.6 598.0,2216.3 598.8,2211.6 600.4,2212.3 601.9,2207.1 602.5,2207.4 605.7,2205.6 606.7,2200.3 609.0,2199.4 611.9,2197.9 613.0,2200.8 616.4,2201.7 618.7,2197.2 621.0,2196.2 624.3,2194.6 626.7,2189.1 629.5,2188.9 632.4,2189.2 636.1,2186.6 637.9,2182.0 639.4,2182.2 643.3,2179.5 646.0,2180.4 648.0,2182.2 652.4,2179.7 653.0,2180.2 654.8,2178.7 658.5,2174.7 661.9,2177.6 664.4,2174.1 665.6,2172.1 668.1,2171.0 671.2,2166.5 673.1,2169.8 675.0,2166.5 676.4,2167.2 679.3,2166.4 682.6,2166.5 685.2,2167.1 689.0,2165.2 690.6,2169.3 693.4,2173.1 693.3,2167.9 693.9,2165.8 695.6,2163.2 696.3,2159.4 697.3,2157.9 698.4,2155.7 699.7,2151.7 701.9,2150.0 704.1,2145.8 707.4,2147.1 708.9,2145.9 710.0,2142.6 712.0,2138.8 713.9,2137.6 715.4,2133.7 717.5,2134.1 718.7,2133.0 720.5,2127.5 721.8,2127.4 724.3,2124.1 724.0,2122.7 725.9,2120.4 727.9,2118.1 729.2,2117.1 731.0,2112.1 731.8,2112.3 733.5,2107.9 735.9,2107.0 737.4,2104.3 741.2,2104.9 743.3,2104.5 744.4,2099.8 745.8,2094.6 747.5,2095.9 749.4,2092.7 751.6,2089.7 752.3,2090.3 753.5,2086.8 756.4,2086.6 757.4,2082.9 758.4,2080.9 761.0,2082.0 763.9,2079.7 767.1,2079.1 769.1,2075.6 772.2,2075.6 774.9,2076.7 777.7,2075.5 780.9,2076.1 783.1,2074.1 785.5,2073.9 788.9,2072.6 791.4,2072.2 794.2,2067.8 796.2,2069.0 797.7,2065.3 802.1,2064.6 804.5,2065.5 807.5,2061.4 809.2,2062.0 810.9,2059.7 814.5,2059.3 816.6,2058.7 819.5,2057.1 823.0,2056.6 826.4,2053.5 828.5,2052.4 830.3,2051.0 831.8,2046.8 833.3,2047.8 834.6,2046.4 836.2,2042.0 838.3,2040.6 839.5,2040.1 843.7,2038.2 845.7,2035.8 847.6,2033.9 849.5,2034.5 849.9,2030.8 850.6,2028.1 852.0,2025.0 853.2,2021.5 854.1,2019.1 856.9,2022.3 859.4,2021.1 862.7,2023.2 864.5,2022.9 868.0,2021.6 870.5,2021.4 872.7,2020.2 874.7,2023.2 876.4,2022.2 879.1,2025.6 881.2,2029.8 881.7,2024.7 883.6,2021.1 884.7,2019.1 886.1,2020.3 888.5,2017.4 889.7,2015.1 891.9,2012.7 894.0,2011.8 896.4,2011.7 900.0,2014.4 901.7,2013.1 904.1,2012.6 907.6,2012.8 909.4,2011.6 912.0,2009.6 915.2,2007.0 916.8,2006.5 920.3,2003.8 923.0,2005.9 925.4,2002.3 927.4,2001.7 931.3,2000.2 933.5,1996.9 935.2,1997.5 938.1,1996.8 939.7,1992.5 942.1,1993.1 944.0,1992.4 947.6,1991.3 949.8,1987.0 952.0,1983.3 954.6,1981.5 956.9,1982.4 958.5,1979.5 960.0,1979.8 962.1,1976.7 965.6,1976.2 966.4,1973.3 969.4,1972.7 971.5,1972.2 973.3,1969.2 974.8,1969.9 978.5,1965.4 980.9,1963.4 984.4,1966.0 986.8,1966.1 990.0,1964.4 992.5,1967.3 994.8,1966.5 996.7,1965.2 1000.7,1962.6 1003.2,1963.2 1005.4,1960.4 1005.4,1960.1 1007.2,1955.9 1010.8,1956.7 1012.1,1956.3 1013.0,1952.9 1013.9,1949.0 1015.1,1945.5 1016.6,1942.5 1017.0,1941.6 1018.1,1941.3 1019.3,1937.5 1021.5,1936.1 1022.8,1932.0 1026.2,1931.7 1027.8,1929.6 1032.1,1932.3 1034.2,1931.5 1037.7,1928.5 1040.5,1931.7 1040.9,1935.9 1042.2,1929.2 1044.4,1928.3 1045.8,1928.0 1048.1,1925.2 1049.5,1923.0 1050.9,1921.2 1053.1,1917.2 1054.5,1917.5 1058.1,1915.7 1059.8,1914.9 1062.3,1911.4 1065.5,1913.6 1068.4,1911.3 1068.5,1910.5 1070.2,1908.1 1070.8,1904.8 1071.2,1905.3 1072.6,1901.3 1073.7,1899.6 1074.6,1896.8 1077.1,1892.1 1078.5,1891.0 1081.2,1890.0 1081.2,1888.3 1084.5,1886.1 1085.5,1886.1 1088.1,1881.1 1091.4,1881.8 1095.1,1881.1 1095.6,1876.6 1099.3,1881.2 1099.8,1884.9 1101.0,1884.4 1103.7,1887.1 1104.9,1889.6 1106.1,1885.3 1105.5,1885.2 1106.6,1879.6 1107.7,1880.2 1109.1,1876.0 1109.2,1873.5 1109.1,1871.3 1112.6,1870.8 1114.8,1868.0 1118.4,1870.6 1121.1,1871.7 1121.8,1873.5 1124.8,1874.2 1126.0,1879.8 1126.7,1872.3 1129.1,1871.6 1129.6,1871.2 1132.0,1867.9 1132.2,1869.6 1133.4,1865.2 1136.1,1862.9 1137.6,1861.9 1140.3,1861.7 1141.8,1858.8 1144.3,1856.4 1147.9,1856.1 1149.0,1855.0 1152.4,1853.0 1155.0,1852.1 1156.4,1848.1 1159.0,1852.2 1162.4,1844.2 1163.2,1843.6 1165.5,1845.2 1167.3,1844.0 1171.5,1843.0 1173.5,1837.3 1176.0,1840.0 1178.5,1835.9 1180.6,1834.8 1185.0,1832.6 1184.9,1833.9 1186.3,1836.2 1189.3,1841.6 1190.6,1840.9 1191.0,1835.4 1192.5,1830.2 1193.1,1831.4 1193.6,1828.6 1194.1,1827.2 1196.2,1823.6 1199.6,1822.7 1200.6,1820.1 1203.7,1817.7 1205.5,1816.2 1206.4,1816.2 1208.3,1813.0 1210.3,1808.7 1212.9,1811.5 1215.9,1807.5 1218.2,1803.9 1221.2,1802.4 1224.3,1801.3 1226.2,1800.2 1227.7,1798.2 1230.2,1793.4 1232.0,1793.9 1235.1,1788.9 1236.3,1788.1 1238.8,1787.1 1240.8,1784.4 1242.7,1781.8 1243.2,1782.6 1245.0,1778.1 1245.8,1776.4 1248.1,1772.5 1249.6,1771.9 1249.7,1773.2 1251.7,1767.9 1255.2,1766.1 1256.0,1761.4 1257.2,1760.8 1259.4,1757.5 1262.8,1755.9 1264.4,1756.8 1265.7,1751.7 1267.5,1754.4 1270.8,1751.9 1272.1,1748.4 1274.2,1743.4 1276.2,1742.5 1279.5,1741.6 1282.0,1742.1 1283.2,1738.2 1285.6,1735.5 1288.0,1731.1 1290.4,1734.9 1292.2,1730.1 1294.4,1731.4 1297.9,1728.6 1300.0,1728.6 1301.7,1729.3 1303.7,1733.9 1305.6,1733.1 1306.3,1738.7 1308.7,1740.7 1310.7,1742.2 1311.3,1740.7 1312.4,1741.8 1312.9,1736.2 1312.9,1734.1 1313.4,1729.5 1315.3,1727.9 1316.7,1725.6 1316.4,1722.4 1317.2,1724.4 1317.8,1727.6 1318.9,1729.4 1317.8,1731.7 1319.1,1736.0 1319.5,1738.9 1320.3,1739.9 1321.0,1743.2 1320.5,1746.8 1321.7,1745.5 1323.0,1753.6 1323.6,1753.7 1326.5,1757.8 1326.8,1758.9 1327.5,1757.2 1331.1,1753.7 1333.4,1750.9 1335.0,1749.6 1337.5,1756.3 1339.6,1754.4 1339.8,1753.5 1341.3,1747.4 1341.7,1747.2 1341.8,1745.4 1342.0,1739.2 1343.7,1737.2 1344.2,1733.8 1343.9,1733.8 1345.1,1730.0 1345.6,1728.4 1347.6,1724.8 1348.1,1720.7 1349.7,1720.8 1350.1,1715.9 1350.7,1715.1 1352.3,1710.0 1352.7,1709.4 1355.2,1708.9 1355.6,1706.0 1357.5,1700.1 1359.1,1698.5 1360.6,1696.5 1363.9,1693.5 1365.0,1692.4 1365.9,1689.1 1368.2,1688.6 1369.0,1687.5 1371.9,1684.5 1373.3,1683.8 1375.5,1678.3 1377.2,1677.4 1379.4,1673.0 1382.8,1672.2 1386.0,1669.3 1387.9,1672.0 1391.0,1673.6 1392.1,1668.5 1395.0,1665.2 1396.8,1663.3 1399.6,1663.1 1401.2,1661.0 1403.5,1660.4 1405.0,1657.7 1407.3,1657.8 1409.2,1654.5 1411.5,1652.1 1413.6,1655.0 1418.1,1655.0 1420.3,1653.2 1419.9,1656.5 1420.2,1660.7 1422.6,1657.6 1425.4,1659.4 1427.2,1656.9 1429.4,1654.2 1430.1,1658.3 1431.1,1660.1 1430.8,1662.8 1432.0,1664.9 1432.7,1666.7 1434.5,1671.3 1436.4,1674.7 1437.8,1676.9 1438.1,1677.6 1440.1,1682.7 1441.2,1684.2 1442.6,1685.2 1445.2,1685.9 1445.9,1691.9 1447.7,1696.7 1449.6,1695.1 1451.5,1697.8 1456.0,1698.3 1456.8,1700.1 1458.4,1702.3 1459.0,1701.0 1458.9,1702.1 1459.5,1709.0 1460.2,1712.1 1460.1,1714.7 1461.9,1717.3 1460.0,1719.1 1460.8,1724.2 1461.8,1723.1 1463.9,1726.1 1465.6,1727.1 1466.5,1731.2 1467.8,1734.1 1468.2,1734.1 1469.5,1740.2 1469.6,1742.8 1470.0,1743.6 1471.2,1744.9 1471.6,1749.2 1472.5,1751.9 1473.4,1751.6 1474.1,1756.8 1474.5,1759.8 1474.4,1758.3 1475.4,1761.8 1476.2,1766.4 1477.4,1769.4 1478.1,1769.9 1478.1,1774.3 1479.7,1777.7 1480.3,1778.6 1480.3,1782.3 1480.0,1784.0 1480.4,1787.6 1482.4,1790.5 1482.4,1793.7 1482.6,1794.6 1483.5,1798.1 1484.5,1798.3 1484.8,1801.8 1484.8,1804.8 1486.5,1809.0 1486.4,1809.4 1487.0,1812.5 1488.1,1818.7 1488.3,1817.4 1488.7,1822.2 1489.7,1823.1 1490.9,1824.9 1490.7,1829.5 1492.3,1831.7 1492.6,1833.5 1492.8,1836.6 1494.7,1836.9 1494.2,1842.1 1495.9,1843.6 1496.9,1845.0 1497.3,1852.8 1497.0,1850.6 1497.4,1853.5 1497.8,1856.5 1498.8,1857.5 1498.6,1863.7 1499.1,1864.1 1499.5,1867.6 1500.6,1870.1 1499.9,1871.0 1500.3,1875.6 1501.7,1877.5 1502.6,1879.2 1502.6,1880.1 1503.2,1884.9 1501.8,1885.4 1503.9,1888.6 1503.8,1891.4 1504.0,1889.9 1503.3,1897.6 1504.3,1897.0 1504.5,1900.7 1504.8,1901.9 1505.6,1907.0 1505.9,1910.3 1507.5,1912.6 1507.8,1913.3 1507.8,1916.6 1508.8,1923.0 1510.5,1924.0 1510.3,1923.3 1511.0,1928.2 1510.8,1930.8 1512.1,1933.8 1512.7,1935.7 1513.6,1938.2 1514.1,1940.7 1515.5,1946.1 1515.6,1948.7 1516.2,1950.9 1516.6,1951.0 1516.8,1954.8 1517.5,1955.1 1517.2,1960.1 1517.8,1958.9 1517.9,1963.6 1518.6,1967.8 1518.9,1970.9 1518.0,1972.5 1518.1,1975.7 1519.1,1978.6 1519.9,1980.2 1520.3,1981.3 1521.0,1984.1 1521.6,1985.7 1522.3,1993.3 1522.7,1992.3 1523.6,1994.6 1523.5,2000.6 1525.0,1997.5 1525.9,2007.2 1527.2,2004.4 1527.6,2006.7 1530.1,2010.1 1529.8,2009.9 1531.7,2015.4 1531.8,2017.0 1533.0,2019.3 1533.0,2025.7 1534.6,2025.8 1534.7,2029.5 1536.5,2032.6 1537.6,2035.5 1537.4,2037.8 1538.9,2036.6 1538.5,2040.9 1538.9,2043.5 1540.4,2044.9 1541.6,2048.1 1541.9,2050.7 1542.5,2051.8 1544.2,2053.2 1543.0,2058.1 1546.5,2060.8 1546.6,2060.5 1548.4,2065.1 1547.4,2066.9 1549.8,2069.0 1553.0,2074.2 1554.6,2073.9 1554.8,2074.0 1555.9,2077.1 1557.3,2079.2 1558.3,2084.6 1558.8,2088.1 1558.8,2090.1 1559.0,2089.5 1559.6,2093.7 1561.1,2095.8 1561.4,2098.4 1561.4,2101.5 1560.4,2107.1 1561.9,2109.4 1562.2,2108.8 1563.0,2111.6 1563.8,2114.3 1563.3,2116.4 1563.1,2120.5 1564.4,2121.2 1565.2,2123.4 1565.4,2128.0 1566.5,2132.0 1565.9,2131.8 1567.2,2136.1 1566.7,2137.4 1567.4,2142.4 1568.3,2143.3 1567.9,2144.1 1570.9,2147.4 1574.6,2150.9 1575.1,2149.3 1576.8,2153.1 1581.6,2149.5 1584.1,2149.6 1585.4,2145.1 1586.3,2146.9 1587.8,2145.7 1587.1,2149.1 1589.2,2150.2 1590.9,2151.6 1592.1,2155.7 1593.5,2158.0 1597.3,2159.2 1599.2,2160.5 1601.1,2163.0 1601.9,2165.3 1602.9,2168.7 1603.3,2172.7 1602.7,2173.8 1602.9,2175.5 1603.3,2178.7 1603.2,2181.3 1603.5,2183.5 1604.2,2185.9 1606.1,2189.1 1606.0,2192.7 1605.8,2192.1 1606.4,2195.5 1606.5,2198.8 1607.3,2201.1 1608.0,2202.2 1607.8,2204.7 1608.6,2207.7 1608.4,2211.6 1609.7,2215.9 1609.5,2212.3 1610.2,2219.6 1610.1,2220.6 1610.5,2223.2 1611.5,2224.7 1610.2,2228.8 1612.0,2233.0 1612.3,2232.3 1612.4,2235.8 1613.0,2235.8 1613.6,2240.5 1612.5,2244.2 1613.9,2247.4 1614.9,2248.8 1614.4,2253.1 1614.8,2254.1 1615.9,2256.0 1615.8,2258.5 1617.6,2263.4 1617.1,2265.4 1619.1,2264.7 1618.9,2272.4 1621.1,2271.2 1621.0,2274.3 1622.0,2275.7 1620.9,2279.1 1621.0,2282.8 1622.7,2284.0 1622.5,2286.3 1623.3,2290.1 1622.7,2294.1 1623.5,2293.8 1623.3,2298.9 1625.5,2302.2 1623.9,2302.6 1624.0,2305.3 1625.1,2310.2 1623.9,2311.8 1624.7,2310.6 1624.8,2317.1 1624.2,2317.6 1625.6,2321.2 1626.5,2326.9 1626.5,2325.2 1628.2,2333.0 1626.1,2334.2 1629.0,2336.9 1628.3,2337.4 1628.9,2342.2 1630.3,2344.3 1630.1,2345.4 1630.0,2344.1 1630.7,2341.1 1631.4,2340.6 1631.4,2336.3 1630.7,2332.1 1630.6,2330.2 1631.9,2326.1 1631.5,2326.1 1631.8,2317.7 1632.0,2317.6 1632.1,2316.9 1631.7,2314.6 1633.0,2312.0 1631.5,2317.3 1631.9,2316.9 1633.1,2318.6 1633.5,2322.6 1633.9,2325.9 1633.9,2328.9 1633.9,2329.8 1634.4,2333.7 1634.3,2336.5 1635.9,2340.2 1634.2,2339.2 1635.8,2344.0 1634.4,2347.2 1635.1,2350.3 1636.7,2353.5 1635.6,2353.3 1636.9,2355.9 1638.8,2360.0 1639.2,2361.7 1640.3,2363.8 1642.4,2366.4 1643.4,2366.7 1644.8,2371.1 1648.7,2372.2 1651.6,2368.9 1654.1,2368.8 1655.7,2366.6 1656.2,2362.5 1657.6,2363.7 1658.8,2358.8 1661.3,2358.7 1661.5,2356.1 1663.1,2352.7 1663.2,2350.8 1664.2,2349.2 1667.4,2344.5 1669.8,2346.6 1671.7,2344.8 1673.4,2341.3 1674.4,2340.8 1676.9,2337.3 1679.5,2336.3 1683.0,2331.5 1684.8,2330.3 1687.0,2331.7 1687.9,2325.1 1689.2,2323.9 1690.2,2320.3 1690.6,2317.8 1694.1,2321.3 1696.5,2314.8 1699.2,2315.0 1701.5,2313.9 1702.0,2311.6 1703.3,2309.3 1705.5,2307.6 1708.9,2309.3 1711.9,2304.2 1713.6,2301.2 1714.6,2301.5 1716.2,2297.3 1715.9,2291.8 1716.5,2292.1 1717.6,2288.4 1719.2,2284.3 1719.5,2283.9 1721.4,2279.7 1721.4,2276.9 1721.8,2272.4 1724.2,2269.5 1726.0,2267.7 1725.6,2264.2 1727.4,2265.2 1729.8,2260.7 1732.1,2260.2 1734.5,2257.9 1737.2,2254.2 1739.0,2253.6 1741.5,2252.4 1744.2,2255.5 1746.2,2252.5 1748.8,2249.2 1748.3,2243.7 1750.4,2244.1 1750.4,2242.5 1751.1,2239.1 1753.1,2238.6 1752.9,2233.9 1755.0,2232.1 1757.9,2230.7 1758.6,2229.0 1761.1,2225.0 1761.3,2223.4 1763.6,2217.9 1763.3,2217.8 1765.5,2214.7 1767.1,2209.2 1768.9,2214.3 1770.2,2217.5 1773.4,2219.3 1773.6,2218.3 1773.0,2214.3 1772.6,2209.0 1774.5,2211.3 1773.5,2205.6 1774.5,2204.6 1775.8,2201.7 1776.0,2199.5 1775.2,2201.4 1776.1,2206.3 1776.2,2203.8 1774.9,2210.3 1775.5,2211.0 1776.4,2213.2 1776.5,2217.5 1776.9,2217.7 1777.1,2221.6 1777.3,2227.3 1777.6,2227.5 1777.8,2230.1 1777.0,2235.7 1776.9,2234.9 1778.7,2238.3 1778.4,2240.4 1777.8,2239.5 1778.3,2243.7 1777.9,2247.1 1778.5,2251.7 1779.1,2246.5 1779.0,2247.4 1779.6,2242.0 1778.4,2240.5 1778.6,2236.6 1778.6,2233.9 1778.4,2232.9 1780.2,2229.3 1779.8,2226.2 1780.0,2225.0 1780.6,2222.9 1780.1,2219.7 1780.8,2216.1 1780.3,2215.9 1779.8,2212.6 1780.4,2209.5 1781.0,2207.7 1781.3,2205.3 1780.8,2200.8 1783.3,2201.0 1784.8,2198.9 1787.4,2196.4 1790.5,2197.2 1791.0,2193.0 1793.0,2192.4 1794.1,2189.8 1794.5,2189.2 1796.1,2185.6 1799.2,2183.4 1801.5,2186.1 1805.7,2186.2 1805.6,2186.6 1808.2,2184.7 1809.3,2176.5 1810.9,2178.9 1812.8,2177.6 1814.3,2174.3 1815.9,2181.6 1817.5,2183.4 1819.9,2185.0 1821.8,2182.8 1825.3,2182.3 1828.7,2180.6 1830.7,2178.4" fill="none" stroke="#f00" stroke-width="9" stroke-linejoin="round" shape-rendering="crispEdges"/><polyline points="288.5,2512.7 288.3,2509.4 290.3,2506.2 290.5,2505.8 290.7,2503.3 291.7,2497.7 292.5,2497.8 292.8,2493.8 294.0,2494.1 296.0,2493.0 298.7,2489.1 302.1,2486.5 304.3,2483.0 304.8,2481.2 308.8,2479.0 310.9,2476.5 312.7,2474.5 312.7,2472.8 313.5,2471.9 315.2,2468.1 316.0,2463.6 318.0,2463.1 319.8,2459.6 320.0,2460.2 321.8,2455.9 322.5,2453.2 323.7,2451.4 325.0,2450.1 328.3,2445.4 331.3,2447.0 332.9,2446.5 334.6,2441.2 334.9,2439.5 335.6,2437.5 336.9,2433.1 338.8,2432.4 338.8,2428.3 341.1,2427.0 340.5,2424.3 341.9,2422.2 343.1,2419.1 344.1,2419.1 345.9,2414.8 347.5,2411.2 349.4,2409.4 350.9,2408.3 351.7,2404.1 353.5,2403.9 354.5,2398.3 357.1,2396.4 357.9,2397.2 359.4,2394.0 360.8,2393.2 363.6,2387.2 364.4,2387.4 367.2,2386.3 367.9,2379.9 371.5,2378.9 372.8,2376.0 373.3,2377.1 375.7,2373.1 376.6,2373.0 379.6,2370.4 381.4,2368.5 380.9,2368.6 383.5,2364.9 385.0,2361.8 388.1,2358.1 388.1,2358.0 390.7,2355.3 392.0,2352.1 393.8,2350.7 396.5,2348.7 399.1,2348.3 402.4,2343.2 406.0,2344.8 406.5,2344.5 408.7,2339.3 410.2,2339.6 414.0,2339.5 415.6,2338.4 415.1,2341.7 416.3,2343.1 417.2,2345.0 416.2,2347.6 417.0,2352.5 418.1,2354.4 418.4,2354.5 420.8,2354.9 423.2,2359.0 426.0,2358.6 427.8,2360.3 429.6,2355.4 431.1,2355.5 431.4,2353.3 433.9,2347.7 435.3,2346.4 435.1,2344.6 436.7,2343.8 437.9,2341.0 439.4,2335.9 439.9,2336.5 441.1,2333.4 442.5,2329.8 442.5,2328.6 443.8,2327.7 443.9,2324.5 445.6,2322.2 445.3,2321.4 445.5,2313.8 448.7,2314.3 448.9,2310.7 447.9,2308.2 450.3,2303.7 451.4,2304.0 453.9,2303.9 455.6,2296.3 459.0,2298.1 460.8,2297.2 463.6,2296.5 466.1,2297.5 468.2,2299.3 471.2,2303.9 473.7,2302.8 476.7,2297.2 479.2,2296.1 479.5,2289.7 481.1,2291.0 482.3,2287.7 482.9,2286.5 483.4,2280.6 485.2,2280.9 485.5,2276.7 488.1,2275.2 489.3,2269.5 488.4,2270.2 491.1,2267.9 491.4,2266.1 493.1,2263.1 494.1,2261.0 494.5,2260.4 496.4,2258.7 498.7,2255.1 500.4,2253.3 503.5,2253.0 506.5,2252.3 507.2,2250.6 509.8,2247.9 510.5,2244.1 512.9,2244.3 515.2,2244.3 517.6,2240.9 517.9,2239.5 519.3,2239.2 522.5,2235.1 524.3,2233.5 526.7,2231.8 528.8,2229.2 530.9,2228.5 531.7,2223.0 534.2,2220.9 535.9,2220.4 538.8,2220.1 540.9,2216.4 543.1,2214.7 544.6,2214.5 547.6,2210.2 548.8,2210.5 551.0,2209.1 553.5,2206.2 554.3,2203.8 556.8,2206.4 558.9,2204.0 560.4,2200.6 562.3,2197.1 564.0,2197.5 568.1,2197.8 570.0,2193.3 571.3,2191.1 573.3,2191.6 577.0,2187.7 577.6,2184.5 580.1,2183.8 580.2,2182.2 582.2,2181.9 584.5,2178.0 585.9,2174.9 588.1,2174.1 589.3,2171.0 591.1,2169.1 592.5,2168.5 594.5,2164.9 593.9,2164.9 597.2,2163.7 599.6,2159.2 599.4,2158.1 602.7,2156.9 604.1,2154.3 605.9,2152.7 606.2,2149.4 608.6,2147.0 610.0,2146.5 613.2,2142.8 614.4,2142.6 617.4,2138.6 618.7,2140.8 622.4,2135.2 623.3,2135.2 625.0,2132.0 627.1,2130.4 627.8,2128.7 630.3,2127.7 632.6,2125.3 635.3,2121.6 638.9,2120.7 638.4,2118.3 639.9,2115.3 642.5,2113.3 643.8,2112.0 644.7,2110.5 646.5,2107.9 648.6,2105.3 650.2,2102.7 652.8,2100.2 656.2,2099.9 657.0,2094.1 657.7,2094.7 658.2,2089.7 662.0,2090.9 664.1,2092.3 666.5,2093.0 668.2,2096.4 670.5,2098.3 672.8,2098.4 674.9,2101.9 677.6,2103.6 679.7,2106.9 682.3,2107.5 684.6,2107.4 687.4,2103.6 690.2,2101.6 691.5,2100.0 692.4,2096.4 693.4,2093.0 693.9,2090.8 695.0,2088.2 696.5,2083.4 697.9,2084.0 698.3,2082.5 699.3,2079.4 700.3,2075.8 701.1,2074.9 702.7,2070.3 704.2,2070.8 705.6,2066.2 706.8,2064.5 709.0,2061.4 712.4,2061.0 712.8,2059.7 717.1,2058.4 717.7,2052.9 721.7,2056.5 725.1,2058.7 727.4,2059.4 729.3,2056.2 732.2,2056.0 735.2,2058.9 737.5,2057.6 740.2,2062.5 740.7,2058.3 742.0,2056.3 742.8,2053.1 743.0,2051.1 743.9,2049.9 743.5,2044.6 743.8,2043.8 745.3,2041.4 744.8,2035.3 747.5,2038.5 749.1,2034.6 751.2,2029.9 754.4,2032.4 754.8,2027.5 757.2,2024.2 756.0,2022.3 758.4,2020.4 760.2,2016.0 762.6,2016.4 764.0,2014.6 767.7,2010.6 769.4,2011.9 771.5,2011.7 772.7,2012.1 774.3,2014.8 774.7,2017.4 774.6,2019.7 777.3,2017.3 777.9,2014.5 780.7,2012.8 781.5,2008.6 783.7,2006.0 785.1,2004.7 786.0,2001.7 786.3,2002.0 785.9,1995.6 787.8,1994.1 788.3,1991.2 790.1,1989.0 793.1,1988.2 796.4,1987.8 798.3,1989.0 801.0,1990.1 804.0,1986.0 805.4,1983.8 808.4,1987.8 810.5,1982.0 812.0,1981.0 814.6,1980.3 816.6,1981.2 820.2,1981.2 822.2,1977.8 825.4,1974.8 827.5,1973.0 830.8,1974.0 833.0,1972.7 835.6,1974.8 838.2,1973.6 841.5,1972.4 842.9,1973.2 843.8,1972.3 844.4,1967.1 844.5,1964.2 847.0,1961.9 848.5,1959.6 851.8,1960.4 855.6,1960.5 856.6,1959.5 859.7,1959.6 861.2,1957.1 865.2,1955.3 868.1,1955.0 870.5,1955.5 872.4,1955.3 875.7,1954.1 878.5,1956.4 880.8,1952.1 882.1,1953.7 886.2,1952.6 888.2,1950.4 891.2,1950.8 894.1,1947.2 896.1,1946.6 898.4,1947.8 901.4,1946.5 905.3,1947.4 906.7,1946.5 910.6,1946.1 912.1,1947.2 915.1,1945.6 918.3,1943.9 921.4,1945.7 923.7,1942.2 925.5,1941.7 928.8,1939.5 931.3,1937.2 933.2,1938.6 937.0,1939.2 939.1,1936.0 941.6,1939.2 944.8,1937.5 947.0,1937.2 949.5,1935.4 952.2,1935.5 955.4,1934.1 956.9,1930.8 961.6,1933.2 963.3,1932.7 965.1,1934.9 967.4,1937.4 970.5,1938.5 973.1,1935.4 976.0,1937.0 979.3,1944.0 981.9,1940.2 983.9,1937.8 985.8,1935.0 988.0,1934.7 990.3,1933.5 992.1,1932.7 995.5,1925.9 995.2,1927.2 996.2,1925.2 997.7,1921.3 998.9,1920.2 999.3,1916.6 1001.9,1914.5 1006.2,1916.8 1004.7,1911.2 1006.2,1910.6 1007.1,1905.1 1007.5,1901.6 1008.4,1900.7 1008.8,1897.5 1009.1,1896.3 1009.2,1891.5 1009.9,1894.0 1010.6,1889.3 1013.0,1885.0 1013.9,1882.0 1015.0,1878.2 1017.3,1877.4 1018.0,1877.6 1020.8,1875.2 1023.8,1872.6 1026.7,1868.6 1029.2,1870.6 1031.4,1870.5 1033.6,1868.1 1037.5,1869.4 1039.0,1864.9 1043.5,1864.8 1046.4,1864.1 1049.5,1862.8 1051.4,1862.6 1053.2,1861.1 1055.8,1861.1 1058.6,1857.8 1060.2,1856.4 1063.1,1854.4 1064.1,1854.8 1066.1,1853.2 1068.4,1850.0 1070.1,1848.8 1072.8,1844.7 1075.1,1845.0 1077.3,1847.8 1081.0,1844.3 1083.1,1842.1 1085.9,1842.9 1088.9,1838.6 1091.1,1842.6 1094.1,1839.9 1097.4,1841.7 1099.3,1840.1 1101.8,1844.1 1102.7,1841.3 1103.8,1838.1 1105.3,1837.4 1106.1,1834.3 1108.2,1832.0 1108.8,1829.7 1109.9,1826.2 1111.4,1825.1 1112.5,1823.3 1113.8,1822.0 1114.7,1819.1 1116.5,1818.2 1117.0,1815.0 1118.4,1811.4 1119.4,1808.5 1121.2,1808.0 1124.0,1806.7 1124.6,1809.3 1127.9,1809.3 1129.7,1808.5 1132.1,1809.8 1134.3,1813.3 1137.1,1814.6 1138.2,1816.8 1139.4,1822.7 1139.7,1822.2 1141.9,1822.9 1142.5,1828.0 1144.7,1829.9 1145.3,1831.4 1147.5,1832.9 1148.0,1834.6 1150.2,1838.2 1151.8,1839.7 1154.6,1840.0 1156.8,1842.7 1157.9,1843.8 1160.5,1847.0 1164.6,1842.8 1166.4,1847.6 1168.8,1849.4 1170.3,1848.1 1171.4,1846.5 1172.6,1848.2 1174.7,1841.7 1174.4,1838.3 1176.1,1836.3 1177.3,1835.8 1179.2,1832.8 1179.5,1829.5 1180.3,1829.6 1182.4,1827.2 1184.7,1825.7 1185.8,1822.7 1186.6,1819.0 1188.2,1817.2 1189.3,1816.0 1190.4,1813.9 1191.4,1811.1 1192.2,1809.4 1195.9,1806.5 1196.7,1803.5 1197.8,1802.9 1199.9,1801.9 1200.8,1797.8 1202.8,1795.8 1204.5,1793.2 1206.8,1791.4 1207.8,1791.1 1209.5,1787.3 1211.1,1786.8 1211.6,1786.1 1213.4,1783.0 1216.9,1782.0 1216.0,1777.7 1217.7,1776.9 1219.6,1774.2 1219.8,1768.9 1221.1,1770.4 1222.0,1768.7 1224.0,1763.6 1225.2,1762.3 1228.9,1763.0 1231.7,1760.3 1232.4,1759.7 1234.9,1755.2 1237.4,1754.1 1239.4,1754.7 1240.1,1750.0 1241.7,1746.8 1244.4,1746.4 1245.8,1742.5 1247.1,1743.7 1249.4,1739.6 1251.3,1737.8 1254.8,1742.6 1256.6,1736.8 1258.4,1736.1 1259.7,1734.5 1263.7,1733.8 1264.8,1731.2 1265.8,1729.5 1267.2,1725.6 1267.9,1727.4 1269.1,1720.9 1269.6,1716.5 1270.9,1718.0 1270.6,1712.1 1273.4,1708.6 1273.1,1710.9 1274.7,1708.2 1276.0,1705.3 1276.3,1701.0 1277.7,1700.5 1279.1,1696.7 1280.0,1693.0 1280.3,1693.5 1281.5,1690.7 1282.8,1688.4 1284.6,1685.1 1285.6,1684.3 1288.4,1681.3 1289.5,1680.3 1290.1,1676.5 1291.5,1674.4 1294.9,1671.4 1297.4,1670.4 1298.9,1671.0 1302.5,1670.6 1305.1,1667.1 1305.9,1662.4 1305.6,1661.8 1307.3,1660.0 1308.3,1653.8 1308.9,1653.6 1310.7,1650.0 1312.2,1649.7 1313.4,1647.9 1314.0,1646.2 1314.5,1639.3 1316.2,1638.7 1318.7,1639.6 1321.6,1638.0 1323.9,1639.8 1326.9,1638.3 1330.4,1636.9 1332.3,1637.5 1335.8,1636.9 1337.5,1637.8 1339.2,1637.0 1341.8,1636.8 1345.0,1634.8 1347.5,1634.8 1349.2,1637.6 1349.4,1640.5 1349.6,1642.5 1350.4,1644.6 1350.7,1649.9 1351.9,1651.1 1353.0,1654.3 1352.9,1656.9 1355.9,1656.4 1358.4,1663.2 1360.1,1661.9 1361.2,1665.7 1362.0,1667.2 1361.7,1669.5 1363.7,1672.2 1363.9,1673.8 1364.9,1676.4 1366.5,1681.1 1366.9,1683.1 1367.9,1687.5 1368.2,1686.5 1368.7,1690.2 1369.8,1691.6 1370.3,1697.3 1370.0,1697.6 1371.4,1704.3 1371.6,1705.3 1373.0,1706.3 1373.6,1711.5 1375.4,1712.9 1374.1,1714.6 1376.0,1716.4 1376.5,1720.2 1375.9,1723.9 1377.6,1725.0 1377.4,1727.5 1377.3,1729.9 1378.9,1732.4 1378.6,1736.8 1378.3,1736.2 1379.5,1743.6 1379.7,1741.1 1380.3,1746.9 1381.4,1749.1 1381.4,1750.5 1382.5,1756.0 1382.0,1758.1 1383.4,1757.5 1384.8,1763.8 1386.1,1765.1 1385.8,1768.5 1386.4,1771.3 1388.1,1772.9 1387.2,1777.3 1387.4,1778.6 1389.0,1780.2 1390.0,1784.8 1390.4,1784.8 1390.5,1787.8 1390.9,1792.4 1391.2,1791.5 1392.2,1797.2 1393.0,1800.5 1393.3,1801.3 1392.3,1806.0 1393.5,1807.2 1394.0,1810.1 1394.0,1811.4 1394.4,1814.9 1395.0,1817.4 1394.7,1821.6 1394.8,1820.4 1395.3,1824.3 1395.1,1828.6 1397.1,1831.3 1396.3,1833.5 1396.8,1835.2 1396.9,1839.2 1397.9,1842.3 1398.4,1845.4 1397.3,1845.6 1397.5,1849.3 1399.4,1851.9 1398.7,1855.7 1399.6,1859.5 1400.2,1859.9 1401.0,1865.8 1401.6,1865.4 1402.1,1866.5 1402.9,1870.7 1403.0,1873.0 1404.2,1876.6 1405.1,1876.1 1405.3,1880.3 1406.5,1881.4 1406.3,1887.5 1407.3,1888.4 1407.5,1890.1 1407.5,1891.6 1408.1,1897.0 1409.5,1897.9 1409.9,1903.0 1410.0,1905.9 1409.8,1906.7 1410.1,1907.1 1410.8,1914.8 1410.9,1916.4 1411.8,1917.4 1412.6,1918.0 1413.3,1920.4 1412.7,1925.7 1413.8,1926.3 1413.7,1929.0 1415.0,1932.7 1415.2,1935.6 1416.4,1936.1 1416.2,1942.0 1416.6,1940.2 1417.4,1945.3 1418.3,1946.8 1418.7,1947.9 1418.6,1951.9 1419.3,1953.2 1419.9,1957.1 1419.6,1959.4 1420.9,1962.8 1421.5,1965.2 1422.8,1968.0 1423.3,1969.5 1424.6,1974.9 1424.8,1974.3 1426.3,1975.2 1427.2,1979.9 1428.2,1982.8 1429.1,1983.6 1430.2,1987.0 1430.5,1988.6 1431.9,1990.4 1432.3,1993.2 1434.0,1993.1 1435.6,1996.1 1436.8,2000.4 1439.4,2003.6 1440.2,2002.6 1443.1,2004.2 1445.7,2004.4 1448.4,2006.1 1450.6,2008.1 1452.5,2006.3 1455.3,2010.4 1456.5,2012.4 1458.9,2013.8 1459.9,2014.7 1461.1,2018.5 1461.8,2021.9 1462.1,2025.5 1464.4,2027.8 1465.0,2027.8 1466.2,2031.4 1466.7,2032.0 1467.7,2032.6 1469.5,2040.0 1469.8,2038.7 1471.2,2042.1 1471.4,2046.5 1472.4,2047.6 1473.4,2047.6 1474.7,2051.7 1475.1,2056.4 1475.2,2056.6 1476.6,2060.3 1477.9,2063.5 1478.2,2065.8 1480.2,2068.2 1480.6,2068.6 1481.8,2072.0 1483.2,2075.7 1483.4,2078.1 1483.2,2082.0 1484.1,2081.3 1485.6,2087.0 1485.8,2088.9 1486.5,2090.0 1486.4,2091.4 1488.3,2095.7 1488.8,2098.0 1488.2,2102.4 1489.7,2101.9 1490.0,2104.0 1491.2,2106.0 1491.5,2110.3 1491.8,2111.2 1493.9,2113.9 1493.8,2114.0 1495.8,2120.5 1495.9,2120.9 1497.4,2123.9 1498.1,2126.5 1499.4,2126.7 1500.3,2131.2 1502.6,2134.7 1502.4,2135.9 1503.9,2139.4 1505.5,2141.4 1506.3,2146.3 1508.0,2146.3 1508.4,2150.5 1509.2,2152.7 1510.1,2154.6 1511.6,2156.2 1510.2,2160.6 1511.9,2165.2 1511.8,2164.8 1512.6,2166.4 1514.4,2168.2 1514.6,2171.5 1516.7,2175.5 1516.5,2177.6 1517.2,2175.3 1518.6,2182.3 1518.7,2184.9 1519.5,2187.7 1519.3,2189.4 1520.2,2190.1 1521.4,2194.5 1520.8,2198.7 1522.8,2201.2 1521.5,2196.8 1522.8,2196.9 1523.9,2193.2 1525.0,2190.2 1525.9,2188.1 1527.0,2185.5 1526.6,2182.4 1526.2,2181.8 1527.7,2179.8 1528.6,2180.2 1528.9,2175.6 1529.4,2171.8 1530.9,2168.5 1529.8,2168.7 1531.0,2165.5 1532.5,2160.9 1534.0,2159.5 1535.3,2155.6 1535.4,2155.6 1536.8,2151.0 1537.6,2148.8 1538.8,2145.4 1541.1,2144.5 1542.2,2143.2 1544.2,2141.5 1546.3,2138.6 1547.5,2135.7 1550.3,2133.9 1551.0,2132.7 1553.7,2131.8 1555.7,2127.4 1557.6,2125.0 1559.4,2122.7 1562.4,2122.2 1562.4,2119.5 1566.3,2116.7 1568.5,2116.2 1570.6,2113.7 1570.1,2110.2 1570.6,2110.7 1570.5,2108.9 1571.8,2103.2 1572.5,2101.0 1572.3,2100.1 1573.0,2095.3 1573.3,2095.5 1573.7,2091.7 1575.2,2089.5 1576.7,2085.5 1577.6,2085.2 1578.5,2082.0 1579.6,2078.6 1580.2,2075.1 1582.0,2073.9 1583.5,2067.8 1585.6,2071.3 1586.5,2067.9 1587.4,2065.9 1589.2,2064.5 1590.2,2058.4 1591.0,2062.2 1592.8,2056.5 1593.7,2054.4 1595.6,2053.6 1596.1,2050.6 1597.2,2048.6 1598.5,2044.0 1598.9,2043.3 1600.2,2040.1 1599.4,2036.9 1600.9,2035.1 1602.8,2030.2 1603.6,2028.4 1604.5,2026.3 1606.7,2024.4 1608.6,2024.1 1609.1,2021.5 1610.8,2018.0 1613.5,2014.6 1614.1,2014.6 1615.5,2011.9 1617.5,2010.8 1619.0,2008.1 1621.3,2007.5 1622.2,2002.8 1624.2,1998.8 1624.4,1999.9 1627.0,1996.6 1628.9,1994.8 1630.7,1994.5 1632.6,1992.2 1633.4,1989.8 1633.2,1990.8 1633.2,1984.9 1634.0,1982.4 1634.2,1980.0 1634.5,1976.3 1635.4,1974.4 1634.4,1970.4 1635.8,1969.3 1635.3,1964.0 1636.2,1962.7 1636.6,1967.1 1636.7,1966.6 1636.7,1970.8 1636.1,1972.0 1636.9,1975.7 1637.1,1979.2 1637.6,1982.6 1639.3,1984.4 1640.6,1981.6 1641.9,1979.6 1642.5,1977.7 1645.8,1972.2 1645.9,1972.5 1649.2,1969.9 1649.9,1970.2 1652.7,1968.1 1653.9,1966.3 1653.6,1963.3 1654.1,1959.2 1653.8,1959.5 1655.2,1956.0 1655.7,1955.1 1655.3,1952.0 1656.3,1946.1 1658.6,1946.0 1661.3,1947.0 1663.1,1944.7 1666.4,1943.9 1668.5,1944.3 1670.3,1941.9 1672.6,1937.4 1675.6,1938.4 1676.8,1935.7 1680.1,1934.3 1683.0,1933.2 1685.4,1932.5 1688.4,1932.0 1690.3,1934.6 1694.2,1934.9 1696.4,1932.7 1699.0,1934.3 1700.9,1930.0 1703.8,1928.2 1706.1,1924.2 1707.0,1926.8 1710.6,1925.4 1714.2,1928.4 1717.4,1924.7 1718.5,1923.1 1719.3,1922.7 1721.3,1917.3 1722.1,1918.1 1724.1,1915.4 1724.7,1912.9 1726.5,1908.9 1728.4,1906.6 1728.0,1904.7 1731.4,1905.0 1735.1,1908.2 1737.5,1909.1 1739.9,1904.3 1741.6,1905.1 1744.4,1907.4 1746.8,1902.0 1748.5,1899.6 1752.4,1902.1 1755.0,1899.0 1758.4,1900.3 1760.0,1898.9 1762.8,1900.5 1765.1,1901.6 1766.7,1901.6 1770.2,1905.3 1772.6,1901.5 1774.6,1897.6 1777.3,1899.6 1778.6,1894.3 1781.4,1894.4 1784.2,1895.9 1786.9,1894.9 1790.1,1892.3 1792.4,1894.3 1795.9,1892.6 1797.8,1890.2 1802.4,1889.7 1803.9,1890.5 1805.9,1894.2 1807.5,1896.1 1809.3,1890.6 1810.4,1890.5 1813.2,1889.8 1815.0,1890.5 1816.2,1885.5 1817.6,1883.4 1818.5,1883.1 1821.1,1879.4 1824.0,1878.4 1824.7,1874.0 1828.3,1873.2 1830.7,1869.9" fill="none" stroke="#000" stroke-width="9" stroke-linejoin="round" shape-rendering="crispEdges" stroke-dasharray="30 28"/><polyline points="293.8,2544.4 293.9,2541.7 293.4,2538.1 292.3,2536.6 293.9,2533.8 292.5,2532.0 292.7,2531.9 292.3,2526.5 293.8,2524.9 295.6,2520.4 295.1,2522.4 295.8,2515.7 296.0,2514.9 298.4,2512.3 299.7,2510.0 301.5,2507.0 301.6,2503.5 303.4,2500.7 303.4,2497.7 304.0,2491.9 305.4,2492.2 307.6,2490.1 306.9,2485.9 309.7,2484.5 310.5,2481.1 312.1,2477.6 314.0,2474.4 315.0,2470.6 317.8,2470.7 321.6,2468.8 322.8,2468.6 322.9,2468.3 324.1,2463.1 324.7,2460.3 325.1,2458.2 328.7,2458.5 330.6,2459.2 333.6,2455.0 336.2,2456.6 338.6,2455.8 338.8,2455.1 340.0,2454.6 341.0,2448.9 341.0,2444.8 341.8,2441.3 342.9,2439.8 343.9,2438.1 344.5,2436.8 346.2,2435.4 346.8,2427.5 348.8,2427.9 348.7,2429.3 350.4,2421.4 351.5,2417.9 351.7,2416.7 353.3,2415.1 355.0,2411.6 358.5,2411.0 360.0,2409.4 361.9,2410.3 363.3,2403.4 365.2,2401.9 364.9,2400.8 367.5,2401.1 369.8,2396.9 371.2,2393.5 372.7,2392.7 374.1,2386.6 375.1,2388.4 376.4,2389.4 378.5,2382.1 378.6,2380.2 378.8,2378.7 380.1,2377.5 381.3,2370.3 382.6,2371.8 385.6,2370.4 387.3,2370.8 389.8,2367.7 391.3,2363.8 395.0,2365.0 395.8,2359.7 399.1,2358.8 400.5,2360.3 401.5,2355.0 401.8,2350.7 403.2,2353.8 403.8,2350.1 405.4,2346.0 406.2,2344.6 407.6,2340.7 409.9,2338.8 411.5,2335.8 413.1,2332.4 413.8,2329.7 416.3,2326.4 417.3,2326.6 418.1,2321.7 420.8,2322.4 423.8,2324.3 424.0,2324.2 425.0,2328.4 424.6,2330.8 426.4,2332.4 425.9,2335.8 427.5,2337.3 426.5,2341.2 428.0,2344.1 427.4,2344.9 428.5,2346.9 429.3,2345.7 430.8,2341.0 432.3,2340.9 433.8,2337.8 435.4,2336.2 435.0,2334.4 435.2,2329.2 437.2,2326.6 438.1,2323.2 438.1,2322.0 438.1,2321.1 439.7,2317.0 440.4,2315.2 442.2,2311.0 444.8,2306.9 446.2,2305.0 448.4,2306.0 450.2,2306.0 453.5,2303.6 456.3,2301.1 458.7,2305.5 459.7,2306.3 461.3,2308.8 461.2,2313.3 461.4,2312.1 463.9,2318.2 464.4,2321.3 464.5,2322.9 464.4,2326.2 466.5,2326.5 466.4,2326.5 467.5,2322.1 467.4,2321.6 469.3,2316.5 468.7,2315.9 469.9,2311.2 469.7,2309.5 471.0,2304.2 471.6,2303.1 471.6,2302.2 472.3,2296.0 472.1,2296.5 472.2,2296.1 472.2,2292.5 474.0,2288.5 474.3,2286.8 474.3,2283.0 477.6,2278.2 479.2,2276.1 480.8,2274.5 482.0,2272.9 483.4,2272.0 483.9,2268.9 485.8,2267.3 486.7,2263.5 488.3,2261.6 489.6,2260.1 491.7,2256.1 493.1,2254.0 495.4,2253.6 498.1,2251.3 500.5,2251.2 502.3,2254.4 503.3,2256.0 506.9,2256.4 508.2,2259.9 509.6,2260.1 510.5,2261.0 512.6,2268.0 513.7,2271.0 513.2,2270.7 515.3,2274.4 514.7,2275.0 515.1,2281.7 516.6,2281.1 517.7,2284.7 519.3,2282.4 521.2,2278.9 521.6,2278.6 522.6,2274.6 522.1,2270.0 522.7,2267.1 523.2,2268.0 523.5,2266.2 526.6,2262.1 528.6,2257.9 528.4,2257.4 530.5,2253.8 533.0,2248.9 532.5,2249.0 534.2,2244.0 536.2,2241.9 537.1,2243.6 538.9,2237.1 539.4,2237.3 541.6,2231.0 544.3,2231.0 544.7,2227.8 546.0,2226.7 547.6,2225.8 549.5,2224.1 550.5,2221.5 552.1,2217.7 554.3,2213.0 555.6,2213.3 556.4,2212.0 558.2,2210.1 561.3,2206.4 562.6,2204.8 563.0,2203.2 564.8,2201.0 567.4,2198.2 569.4,2198.7 571.6,2197.9 573.1,2190.2 575.6,2191.8 577.9,2188.3 579.5,2188.0 581.3,2185.2 582.8,2182.0 583.9,2181.9 586.4,2180.2 586.3,2175.9 587.9,2172.2 589.3,2169.9 590.6,2170.7 592.7,2167.9 593.2,2165.6 595.2,2162.6 597.2,2163.8 598.1,2160.2 601.6,2157.1 603.0,2156.6 605.3,2158.9 608.5,2160.3 609.8,2160.1 614.1,2163.1 617.6,2166.1 619.0,2160.2 621.6,2158.8 623.5,2154.7 625.9,2154.4 628.3,2154.5 628.6,2152.6 629.5,2148.6 631.4,2145.4 632.5,2142.3 633.2,2140.4 637.0,2139.9 636.2,2135.6 638.1,2136.4 639.3,2133.0 640.5,2132.2 642.3,2128.5 642.8,2125.3 644.0,2124.1 646.3,2123.0 649.1,2120.4 649.7,2116.8 651.9,2117.2 653.4,2114.6 656.7,2111.3 658.3,2111.0 661.3,2110.4 663.4,2105.7 664.9,2104.1 667.1,2105.4 669.3,2103.7 672.0,2100.5 674.9,2097.8 676.3,2101.7 679.4,2101.7 683.1,2098.5 685.0,2102.5 686.7,2100.5 688.6,2098.2 690.6,2093.4 692.9,2094.7 695.1,2092.2 696.2,2090.2 697.9,2087.4 698.4,2085.0 700.7,2082.8 701.3,2079.0 704.2,2078.2 705.4,2077.2 705.7,2072.9 707.9,2072.3 709.1,2070.1 710.7,2067.1 712.8,2064.5 714.6,2065.0 718.7,2063.3 719.3,2059.6 722.8,2056.8 724.7,2054.3 724.3,2058.1 726.4,2059.7 725.4,2060.2 725.9,2065.7 725.7,2067.0 727.1,2068.9 727.8,2066.3 727.7,2064.0 727.3,2061.1 728.3,2057.8 729.0,2060.2 728.7,2052.9 729.1,2052.2 729.7,2045.2 730.0,2045.1 730.4,2043.4 730.5,2041.2 732.7,2039.3 735.2,2037.7 737.8,2036.9 739.3,2037.9 741.3,2031.6 742.9,2029.8 744.2,2029.8 744.2,2028.6 747.7,2027.3 750.8,2024.6 751.3,2022.9 753.1,2018.4 754.0,2017.8 755.6,2012.2 757.2,2010.3 758.1,2008.2 759.9,2007.1 762.9,2002.7 765.6,2003.0 766.8,2001.9 767.2,1998.2 768.8,1996.4 769.3,1993.9 770.9,1994.0 771.5,1999.2 772.6,2002.6 773.0,2003.8 773.6,2007.9 774.8,2012.9 776.7,2010.4 777.9,2013.3 778.3,2016.2 779.6,2022.1 781.9,2020.1 781.9,2023.1 784.9,2019.6 786.4,2017.7 787.5,2013.2 789.8,2012.1 793.9,2010.4 796.6,2009.2 798.8,2009.6 800.2,2005.3 802.8,2004.6 804.7,2003.6 806.7,2001.0 809.3,1999.7 811.8,2000.8 815.4,1998.4 816.5,1999.0 819.3,1998.6 823.0,1996.3 825.8,1997.1 827.5,1995.7 831.6,1996.7 833.6,1991.1 835.8,1998.0 839.2,1995.6 841.7,1997.4 844.9,1994.3 845.9,1995.2 849.0,1992.8 851.5,1991.4 853.6,1991.5 855.7,1989.6 856.8,1987.5 858.9,1985.4 860.4,1984.7 861.5,1979.9 863.6,1977.0 862.7,1972.2 864.3,1974.0 864.5,1972.2 866.2,1965.8 867.2,1961.2 869.2,1958.2 870.2,1961.5 872.5,1960.0 875.4,1960.9 878.5,1959.5 882.6,1959.1 882.8,1959.1 886.0,1962.7 886.7,1959.2 888.4,1957.3 888.6,1951.0 891.7,1952.4 894.1,1950.5 896.6,1946.8 899.6,1949.4 901.5,1947.0 904.9,1945.3 906.9,1943.3 908.9,1943.1 913.3,1941.8 914.8,1939.6 917.3,1939.4 919.5,1937.1 922.7,1935.6 925.9,1936.0 929.8,1935.7 929.0,1932.7 932.9,1933.7 934.8,1928.4 936.5,1926.8 938.9,1927.0 941.4,1924.6 943.7,1925.1 947.6,1925.6 950.1,1924.1 952.9,1926.5 955.4,1927.8 957.4,1927.7 959.9,1928.7 963.7,1923.2 964.6,1921.4 965.6,1921.2 968.1,1918.7 970.7,1914.3 972.1,1917.5 973.9,1911.4 975.2,1912.3 979.0,1913.1 981.6,1909.8 983.0,1907.7 987.1,1910.2 988.3,1908.9 991.6,1907.6 994.3,1907.9 996.7,1903.2 999.4,1904.8 1001.5,1904.3 1003.0,1904.5 1006.8,1899.3 1008.6,1898.3 1009.6,1900.9 1011.3,1897.3 1014.9,1891.5 1015.6,1887.8 1017.1,1886.4 1017.7,1887.9 1019.7,1882.7 1021.1,1877.8 1023.6,1875.6 1024.3,1874.5 1027.5,1871.8 1028.0,1873.9 1031.7,1871.7 1033.6,1868.7 1034.4,1866.2 1037.3,1865.1 1039.3,1862.1 1040.3,1859.1 1043.7,1863.1 1046.7,1861.7 1048.7,1861.3 1051.9,1859.7 1053.1,1859.3 1054.4,1856.9 1055.8,1853.4 1057.7,1850.7 1058.9,1847.9 1062.2,1847.5 1064.9,1847.1 1067.0,1843.0 1069.6,1843.0 1071.6,1841.1 1074.6,1839.1 1075.1,1837.0 1078.4,1836.3 1080.1,1832.6 1082.0,1831.6 1084.4,1830.1 1086.5,1828.8 1089.6,1825.8 1090.4,1826.8 1093.3,1821.6 1095.2,1820.0 1097.7,1818.4 1098.8,1817.3 1101.5,1814.3 1102.0,1813.1 1103.2,1810.7 1105.0,1807.7 1107.4,1808.5 1110.5,1803.5 1112.8,1806.3 1115.4,1802.8 1116.2,1798.2 1117.6,1797.8 1118.1,1795.5 1119.4,1792.4 1121.9,1791.3 1121.4,1787.7 1123.2,1785.6 1125.1,1782.6 1125.9,1780.7 1128.5,1782.2 1131.5,1783.3 1134.5,1783.4 1137.7,1783.2 1137.5,1780.1 1140.6,1779.3 1142.7,1778.3 1144.7,1776.7 1147.2,1775.0 1149.9,1774.0 1152.2,1774.4 1155.3,1772.1 1157.7,1775.0 1160.5,1773.1 1163.3,1771.7 1165.3,1769.8 1168.3,1769.3 1170.3,1767.6 1172.8,1770.1 1176.3,1767.1 1179.7,1769.0 1181.3,1768.6 1183.7,1766.3 1187.3,1764.1 1189.8,1762.8 1191.2,1766.1 1194.2,1762.2 1197.7,1759.4 1199.0,1757.9 1201.8,1754.8 1202.6,1753.7 1204.0,1752.1 1204.0,1748.7 1207.7,1748.0 1208.8,1745.8 1211.2,1740.8 1213.7,1737.5 1216.7,1738.8 1218.7,1738.7 1219.3,1734.6 1222.0,1735.1 1223.8,1733.2 1227.2,1729.8 1228.3,1729.0 1230.1,1725.4 1232.4,1722.6 1235.5,1721.1 1236.6,1721.8 1238.6,1718.8 1240.2,1715.9 1241.0,1712.5 1243.7,1713.0 1244.7,1710.2 1246.7,1708.4 1248.6,1705.6 1250.9,1702.2 1252.9,1700.8 1255.7,1698.4 1257.8,1695.1 1259.0,1691.7 1258.8,1690.3 1260.4,1688.8 1261.8,1682.9 1263.1,1683.6 1264.3,1681.7 1267.8,1680.7 1269.0,1675.6 1271.7,1674.5 1273.9,1674.0 1275.6,1673.9 1277.1,1667.4 1279.3,1666.0 1281.6,1663.1 1283.5,1663.8 1286.0,1657.8 1286.6,1661.2 1290.4,1659.3 1291.9,1657.3 1293.5,1655.9 1296.3,1650.0 1298.4,1649.9 1301.1,1651.7 1302.8,1647.2 1305.9,1644.9 1307.7,1643.0 1310.0,1640.1 1312.0,1637.9 1313.8,1633.5 1316.8,1636.0 1318.7,1633.4 1321.6,1634.0 1323.6,1636.9 1326.9,1638.5 1329.6,1638.1 1331.3,1639.3 1335.3,1641.5 1337.4,1640.6 1340.2,1640.7 1343.3,1644.5 1345.5,1644.4 1346.3,1648.9 1347.2,1649.0 1348.1,1653.5 1350.5,1654.9 1351.1,1656.9 1351.6,1661.9 1352.3,1665.0 1354.4,1668.5 1354.6,1670.9 1354.3,1670.8 1355.7,1676.1 1355.9,1678.2 1357.2,1681.4 1358.3,1683.0 1359.1,1684.4 1359.1,1686.7 1359.0,1690.8 1360.9,1694.3 1361.6,1693.7 1362.3,1696.8 1363.1,1700.9 1363.4,1703.4 1364.9,1703.3 1365.8,1710.3 1368.4,1711.8 1367.9,1715.0 1368.7,1714.5 1368.7,1719.0 1369.7,1721.9 1369.1,1725.2 1369.9,1726.9 1371.3,1729.6 1371.0,1732.9 1371.5,1737.3 1373.0,1738.8 1373.2,1738.8 1373.7,1743.2 1374.3,1745.5 1374.5,1748.5 1374.7,1751.8 1375.1,1755.8 1375.5,1757.5 1376.8,1760.4 1376.4,1762.8 1376.3,1763.5 1378.6,1765.5 1379.1,1768.8 1380.6,1775.3 1380.2,1776.9 1381.0,1778.0 1382.6,1781.1 1382.4,1783.7 1383.0,1784.6 1385.0,1789.0 1383.8,1790.9 1385.3,1794.1 1384.8,1794.9 1385.1,1797.1 1385.3,1802.1 1385.5,1805.7 1386.5,1808.4 1385.8,1811.2 1387.4,1810.2 1387.0,1816.1 1386.9,1820.3 1388.2,1820.9 1388.4,1820.7 1388.5,1827.6 1389.2,1828.3 1389.6,1829.7 1389.7,1833.1 1390.6,1836.5 1391.4,1838.0 1392.9,1841.5 1393.1,1846.8 1395.1,1845.0 1395.5,1848.7 1395.4,1850.8 1395.2,1856.1 1396.5,1855.5 1397.5,1861.8 1396.4,1863.0 1396.9,1864.1 1397.6,1865.2 1397.2,1871.2 1398.4,1871.1 1400.2,1876.3 1399.7,1877.0 1399.7,1880.0 1401.0,1879.9 1399.5,1885.1 1400.0,1887.6 1401.1,1890.5 1402.7,1892.0 1403.7,1897.0 1403.1,1898.4 1404.1,1898.9 1404.5,1904.2 1406.0,1908.2 1405.5,1912.8 1407.4,1914.8 1406.9,1915.9 1407.0,1919.1 1406.3,1920.4 1407.5,1923.7 1406.6,1926.1 1408.3,1930.1 1408.4,1929.2 1408.5,1935.0 1409.9,1938.6 1410.7,1938.5 1410.6,1941.9 1411.7,1943.7 1411.9,1948.3 1412.6,1945.0 1414.2,1952.0 1416.5,1953.8 1416.9,1959.6 1417.1,1958.1 1418.4,1962.1 1419.0,1962.5 1418.3,1969.7 1418.4,1969.3 1417.8,1970.4 1418.4,1976.7 1419.1,1977.4 1419.0,1979.6 1417.8,1983.8 1419.6,1986.9 1420.8,1988.6 1421.8,1990.8 1423.1,1992.5 1424.4,1995.4 1425.1,2000.2 1426.2,2005.2 1427.7,2003.9 1428.1,2006.2 1430.1,2009.5 1430.8,2011.5 1431.8,2016.6 1432.5,2018.0 1433.4,2023.6 1434.1,2023.2 1434.4,2023.8 1436.4,2029.8 1436.4,2030.4 1438.0,2032.9 1438.5,2035.7 1440.3,2037.9 1442.1,2042.8 1443.2,2044.5 1445.0,2045.3 1447.0,2047.8 1448.0,2051.8 1449.1,2051.8 1449.5,2058.1 1452.1,2059.1 1453.5,2059.8 1455.9,2067.2 1456.3,2071.3 1457.1,2067.4 1459.3,2070.3 1460.7,2073.4 1461.3,2075.7 1463.1,2077.4 1464.9,2081.6 1466.5,2085.8 1468.0,2084.9 1469.6,2088.0 1472.0,2087.5 1471.4,2091.9 1472.4,2094.8 1473.9,2096.7 1475.5,2099.6 1477.3,2100.0 1478.3,2101.6 1478.7,2106.0 1480.8,2109.3 1481.5,2112.0 1483.4,2112.3 1484.4,2115.0 1484.9,2117.6 1486.2,2122.9 1487.4,2123.2 1488.6,2124.6 1490.0,2131.8 1490.4,2131.6 1490.9,2133.4 1492.6,2137.0 1493.3,2135.2 1494.7,2140.0 1495.9,2144.1 1497.3,2145.9 1498.2,2145.8 1498.3,2147.3 1499.0,2150.0 1500.0,2153.9 1500.2,2158.6 1501.6,2160.6 1501.6,2162.0 1503.4,2168.3 1503.5,2166.0 1504.0,2171.0 1504.3,2175.9 1505.5,2176.9 1507.1,2177.7 1507.5,2183.0 1507.7,2185.8 1507.6,2188.8 1509.6,2188.3 1508.7,2195.3 1509.9,2195.7 1511.0,2197.9 1511.1,2202.2 1511.1,2206.0 1511.1,2208.3 1512.3,2210.0 1511.7,2215.7 1512.8,2213.7 1513.6,2217.1 1512.8,2218.1 1514.9,2220.0 1515.2,2224.2 1514.8,2226.1 1517.3,2229.5 1518.4,2233.9 1518.7,2234.2 1520.0,2236.4 1520.8,2238.2 1522.7,2242.1 1523.5,2242.5 1525.2,2245.0 1528.0,2246.4 1527.3,2248.8 1530.3,2252.9 1532.0,2255.3 1533.7,2254.1 1535.0,2260.7 1535.2,2262.1 1536.9,2262.9 1537.4,2264.7 1538.5,2270.4 1539.1,2271.5 1538.9,2273.9 1542.5,2275.3 1545.8,2275.2 1547.5,2275.9 1547.9,2270.1 1548.7,2268.2 1549.1,2267.8 1550.5,2266.0 1550.4,2263.4 1552.5,2259.8 1553.2,2256.4 1555.4,2256.2 1556.0,2254.3 1556.8,2252.2 1558.6,2245.7 1560.7,2244.4 1559.7,2242.9 1562.0,2241.5 1563.2,2239.4 1563.6,2237.9 1564.9,2235.6 1566.7,2230.0 1566.7,2230.3 1569.1,2227.1 1570.1,2224.7 1569.9,2223.4 1570.3,2221.7 1571.5,2216.6 1571.4,2215.6 1571.6,2211.9 1571.4,2210.4 1573.6,2209.2 1575.0,2207.2 1575.6,2203.2 1576.5,2203.0 1578.5,2196.1 1578.0,2195.4 1578.7,2194.2 1580.7,2189.9 1580.2,2189.5 1581.3,2183.0 1581.4,2180.9 1583.0,2177.0 1584.2,2175.2 1584.1,2174.4 1584.4,2171.6 1584.4,2168.8 1585.7,2165.8 1585.5,2162.9 1588.1,2161.0 1591.1,2161.8 1592.4,2161.9 1595.9,2162.1 1598.0,2160.6 1597.2,2157.3 1599.9,2155.2 1600.9,2156.7 1602.0,2151.4 1602.6,2150.4 1603.8,2145.2 1604.6,2143.7 1605.8,2140.7 1607.1,2141.3 1609.8,2138.6 1611.5,2134.0 1612.2,2134.8 1612.7,2132.0 1614.6,2127.6 1618.4,2126.5 1619.9,2124.2 1620.8,2123.7 1623.6,2119.4 1627.1,2120.9 1629.6,2117.0 1633.1,2117.2 1635.1,2115.6 1637.4,2115.0 1639.7,2113.3 1641.0,2110.8 1644.7,2113.5 1647.7,2114.4 1649.7,2115.2 1651.8,2117.4 1654.8,2117.3 1655.5,2120.0 1659.1,2119.8 1661.0,2122.3 1664.3,2123.1 1667.5,2124.2 1670.5,2126.6 1673.4,2125.9 1676.3,2128.4 1680.1,2125.3 1682.4,2128.2 1685.1,2127.6 1687.8,2130.6 1689.9,2129.9 1692.6,2132.4 1694.3,2132.5 1696.1,2134.2 1699.6,2132.1 1704.0,2132.9 1705.1,2130.2 1708.7,2130.3 1711.2,2130.5 1714.9,2128.4 1715.7,2126.0 1718.5,2122.6 1721.0,2123.7 1721.0,2119.7 1722.7,2116.6 1724.4,2117.0 1727.0,2113.1 1728.8,2111.6 1730.8,2107.7 1732.5,2103.1 1734.6,2104.5 1736.5,2103.9 1740.0,2099.1 1741.1,2100.2 1743.4,2098.0 1746.0,2100.1 1747.5,2096.5 1751.5,2097.9 1752.6,2094.9 1756.5,2094.3 1756.4,2092.6 1757.3,2090.4 1759.6,2085.8 1760.0,2086.1 1763.6,2084.4 1765.6,2081.0 1767.5,2081.2 1769.4,2079.8 1773.3,2081.0 1775.0,2078.2 1778.8,2074.8 1779.2,2074.1 1781.6,2073.2 1783.6,2072.0 1784.0,2069.2 1786.7,2065.8 1787.9,2062.5 1788.8,2060.6 1790.0,2057.7 1792.1,2051.2 1793.3,2054.0 1795.0,2052.4 1797.1,2050.2 1800.4,2049.5 1802.3,2052.1 1804.1,2047.5 1805.2,2046.3 1807.3,2043.3 1807.6,2040.3 1808.7,2038.1 1809.1,2035.6 1811.0,2031.4 1813.0,2034.8 1815.5,2033.1 1819.1,2032.3 1821.1,2037.2 1823.5,2036.2 1826.8,2039.3 1828.3,2038.9 1830.7,2041.6" fill="none" stroke="#00f" stroke-width="9" stroke-linejoin="round" shape-rendering="crispEdges" stroke-dasharray="30 6.3 15.5 6.3"/><polyline points="288.5,2462.4 290.0,2458.0 292.5,2457.9 293.8,2454.3 293.7,2454.6 293.7,2448.2 295.4,2447.8 297.8,2442.6 299.1,2441.0 300.3,2440.3 301.8,2434.9 304.5,2432.0 305.8,2430.8 307.7,2426.6 309.0,2426.0 308.8,2422.0 312.1,2422.0 313.5,2419.0 316.0,2416.9 316.9,2412.5 319.1,2410.0 320.6,2409.1 322.4,2406.4 322.5,2404.8 325.4,2401.4 325.4,2398.5 326.6,2399.6 327.3,2396.5 329.4,2397.2 332.8,2398.2 334.9,2399.1 335.7,2400.2 336.2,2403.4 337.3,2407.4 336.0,2412.1 336.0,2411.7 336.3,2417.4 335.5,2416.0 335.8,2423.5 335.4,2425.3 336.1,2424.9 336.7,2426.3 337.2,2430.9 336.2,2435.5 336.2,2435.5 336.9,2438.6 336.6,2439.7 336.0,2443.0 336.7,2446.1 337.4,2450.0 337.5,2451.6 336.0,2453.5 337.6,2458.0 337.2,2460.6 336.8,2460.8 335.9,2464.3 336.1,2469.2 336.7,2470.8 336.6,2473.7 335.5,2468.6 336.1,2468.8 335.8,2464.9 337.3,2464.6 337.3,2458.9 337.9,2458.9 337.9,2453.8 338.3,2451.9 337.6,2448.4 337.9,2447.0 338.8,2446.1 338.2,2440.6 339.2,2437.5 338.7,2435.0 338.9,2435.6 338.9,2431.5 339.7,2428.9 340.7,2427.1 340.0,2424.8 340.4,2418.2 340.1,2418.6 339.6,2417.5 340.4,2413.0 341.0,2409.6 340.7,2406.1 341.7,2402.1 340.0,2401.5 340.9,2398.6 341.0,2393.7 341.1,2393.9 342.2,2389.2 342.7,2388.6 341.1,2384.3 341.7,2382.6 342.8,2383.8 341.7,2376.1 343.7,2374.9 344.5,2374.4 344.5,2368.8 345.3,2367.4 346.3,2364.7 349.0,2362.8 348.3,2360.8 349.6,2356.0 350.8,2353.9 352.0,2351.9 354.4,2351.0 355.8,2346.0 359.6,2343.2 361.3,2343.5 362.8,2343.6 364.1,2342.2 364.7,2339.9 366.9,2337.2 369.9,2338.0 370.7,2334.4 371.3,2331.3 375.1,2327.2 376.4,2326.8 379.1,2325.6 380.6,2322.8 382.2,2320.9 384.4,2318.5 385.6,2316.4 386.9,2315.2 389.5,2311.2 391.3,2310.3 392.9,2308.1 395.6,2306.2 397.7,2301.8 399.6,2299.8 400.9,2297.1 403.2,2293.9 401.8,2292.1 404.4,2289.8 406.0,2287.5 407.1,2283.7 408.0,2282.3 409.8,2281.9 413.3,2280.2 415.5,2280.3 418.3,2277.2 418.1,2284.1 419.2,2283.6 420.4,2286.0 421.1,2293.5 421.6,2294.4 421.2,2297.2 422.6,2298.7 423.3,2299.4 422.3,2301.9 423.3,2305.2 423.8,2310.4 425.1,2311.5 423.7,2314.9 425.0,2316.0 425.1,2320.3 426.1,2324.5 425.2,2324.1 427.6,2321.7 428.5,2318.8 428.9,2320.1 430.2,2313.4 430.0,2313.3 430.8,2309.1 431.5,2307.7 433.6,2306.0 432.9,2300.9 434.8,2298.0 435.9,2293.5 437.0,2293.4 437.8,2290.8 439.1,2286.8 439.7,2284.4 440.2,2283.1 441.7,2281.0 443.8,2277.2 444.3,2274.1 446.5,2273.4 448.1,2266.6 448.2,2267.2 448.6,2265.9 451.3,2262.2 452.1,2257.9 453.3,2256.3 454.3,2250.9 457.3,2250.0 457.7,2248.5 458.0,2244.6 458.3,2243.9 459.5,2240.2 460.4,2238.0 460.8,2233.7 460.7,2233.3 461.7,2233.8 461.7,2226.8 462.6,2224.3 466.1,2223.1 469.4,2226.6 470.6,2222.6 472.7,2223.3 475.5,2221.4 477.6,2219.1 479.9,2218.6 482.2,2212.4 484.2,2212.2 487.0,2209.4 490.0,2211.2 491.9,2208.8 494.1,2206.6 494.7,2203.7 498.0,2203.2 499.2,2202.1 500.6,2197.9 502.6,2199.6 504.1,2193.3 507.5,2190.7 509.2,2189.8 511.0,2187.1 513.1,2184.7 515.0,2181.2 516.8,2180.5 519.1,2180.4 521.3,2175.6 522.3,2174.8 523.6,2171.1 524.9,2169.8 526.6,2170.2 528.3,2166.3 529.0,2164.0 531.9,2162.0 533.4,2158.6 536.8,2156.7 537.5,2154.6 540.3,2151.0 541.9,2151.9 543.5,2148.9 546.5,2146.4 548.0,2143.3 550.7,2144.0 552.8,2140.4 553.8,2142.4 555.9,2140.8 558.4,2135.6 560.3,2134.6 560.5,2132.4 562.1,2126.4 564.0,2126.6 565.8,2124.7 568.7,2123.5 570.6,2122.3 571.7,2120.4 575.0,2119.0 575.3,2116.3 577.1,2113.0 579.2,2110.4 581.4,2109.8 582.3,2108.5 584.9,2105.5 586.0,2105.0 588.5,2104.7 590.4,2100.6 594.3,2100.4 593.6,2097.7 596.0,2096.7 598.9,2093.2 600.7,2091.6 602.3,2095.3 606.4,2090.1 606.6,2085.6 609.6,2086.4 611.5,2085.6 614.0,2085.9 615.4,2083.9 616.8,2082.8 619.5,2080.3 622.0,2079.7 622.4,2076.8 626.2,2075.3 627.5,2071.7 630.1,2073.0 631.0,2072.5 633.4,2068.7 636.0,2066.1 637.8,2065.6 639.2,2064.6 641.8,2064.7 643.1,2059.6 645.5,2056.4 648.7,2055.8 649.4,2052.8 651.2,2052.5 653.6,2049.1 656.4,2049.8 656.9,2043.5 658.9,2044.7 659.8,2040.5 661.3,2043.1 662.2,2035.8 664.2,2035.5 666.7,2034.3 670.1,2036.2 671.4,2034.9 672.6,2036.8 677.2,2037.6 678.7,2038.5 682.0,2037.9 685.2,2039.5 687.0,2034.5 689.8,2033.5 692.5,2031.5 693.5,2032.2 695.2,2029.9 696.7,2027.1 697.8,2024.8 699.8,2018.3 700.8,2020.3 703.2,2019.6 704.1,2015.7 706.1,2012.5 706.9,2008.5 708.0,2008.9 708.6,2008.2 711.7,2005.1 713.3,2002.6 714.4,2001.4 717.2,1994.7 718.0,1996.7 719.5,1991.2 720.4,1992.5 722.1,1989.0 722.6,1988.6 724.8,1986.3 726.7,1981.5 729.1,1981.6 729.9,1977.0 731.0,1975.7 732.4,1976.4 734.4,1971.8 737.2,1968.1 738.4,1968.6 739.9,1965.5 743.2,1965.6 745.2,1962.8 747.8,1960.7 750.3,1958.1 750.8,1957.8 754.5,1956.0 756.4,1953.6 758.7,1953.9 762.3,1953.3 764.2,1955.1 767.6,1954.9 770.1,1953.6 771.7,1955.0 775.0,1959.5 778.1,1955.9 779.1,1956.8 781.6,1956.6 783.9,1952.8 785.4,1951.6 786.5,1949.4 790.8,1948.9 794.0,1951.0 795.8,1949.0 797.5,1949.2 800.2,1954.1 801.6,1955.6 804.3,1954.0 806.1,1956.4 809.4,1954.8 812.4,1952.8 813.5,1954.8 817.2,1955.1 819.7,1955.2 822.9,1952.9 825.8,1954.7 828.2,1952.2 830.2,1954.3 833.2,1954.1 836.1,1952.3 838.1,1951.0 841.4,1949.7 842.4,1946.7 844.6,1944.6 847.8,1942.3 849.7,1941.4 852.0,1941.9 854.9,1936.5 856.9,1939.7 859.0,1935.6 861.2,1932.9 861.8,1931.1 864.9,1928.5 866.0,1927.1 867.4,1924.8 868.9,1921.1 871.0,1918.4 872.2,1916.5 875.0,1913.3 877.0,1911.6 879.7,1909.9 881.2,1910.5 883.6,1903.2 885.1,1903.4 888.7,1903.6 891.1,1901.8 894.2,1900.1 896.5,1897.8 899.1,1896.9 901.9,1900.2 903.9,1895.1 906.1,1894.7 909.0,1897.5 911.2,1894.7 911.7,1892.0 915.2,1888.1 917.5,1891.4 919.8,1888.6 923.4,1887.8 925.5,1884.8 928.7,1886.6 931.5,1886.1 933.2,1883.7 936.9,1882.2 938.7,1880.2 940.9,1879.9 944.6,1877.4 946.6,1876.2 949.0,1873.6 952.0,1874.9 954.3,1869.6 954.2,1867.7 956.8,1868.9 959.9,1867.8 961.8,1865.4 963.8,1864.2 966.6,1862.5 967.5,1860.2 969.5,1858.3 973.3,1855.9 976.1,1856.7 978.8,1859.1 981.5,1857.3 983.3,1860.1 986.9,1859.1 989.9,1863.9 992.0,1864.6 993.4,1862.2 996.4,1860.4 997.4,1856.1 999.2,1853.7 1002.2,1855.8 1005.1,1857.3 1007.3,1858.7 1010.4,1861.3 1013.5,1862.0 1014.7,1858.8 1018.6,1859.5 1021.2,1854.9 1022.9,1850.4 1025.6,1850.1 1026.8,1847.4 1030.4,1848.1 1031.6,1846.6 1033.9,1842.6 1035.4,1840.4 1036.7,1836.8 1038.3,1836.2 1039.9,1833.0 1040.7,1838.6 1044.5,1837.5 1045.7,1836.5 1049.3,1835.9 1051.7,1832.4 1054.2,1832.8 1057.4,1833.0 1059.3,1833.6 1062.7,1834.3 1064.4,1830.5 1067.3,1828.2 1068.2,1826.9 1071.0,1824.2 1073.4,1822.8 1076.5,1821.8 1078.1,1820.3 1080.9,1819.2 1084.0,1818.3 1086.0,1818.5 1089.4,1819.5 1091.2,1823.8 1095.5,1819.2 1097.3,1816.7 1099.5,1815.8 1101.4,1813.1 1103.1,1810.1 1105.2,1808.9 1107.9,1807.7 1109.3,1804.3 1110.7,1803.2 1114.0,1800.8 1116.1,1798.6 1119.4,1795.0 1119.7,1794.0 1122.8,1791.9 1126.2,1793.3 1127.4,1792.5 1131.8,1794.1 1133.1,1792.7 1136.1,1789.0 1137.5,1787.4 1139.0,1786.5 1141.0,1784.8 1143.2,1784.9 1146.7,1781.2 1146.8,1779.9 1150.4,1781.9 1152.8,1777.0 1154.6,1775.9 1155.4,1772.9 1158.2,1773.1 1159.9,1771.3 1162.7,1770.0 1165.4,1771.5 1167.9,1767.6 1170.5,1765.2 1173.2,1762.8 1177.1,1763.7 1178.0,1763.1 1182.6,1761.0 1184.2,1756.7 1186.6,1759.3 1187.3,1755.9 1190.5,1753.2 1191.1,1750.8 1194.0,1745.8 1196.7,1749.8 1198.6,1746.1 1200.9,1745.8 1201.6,1743.6 1205.6,1741.4 1208.5,1739.1 1210.9,1738.3 1213.5,1735.3 1216.8,1732.4 1217.0,1737.6 1218.6,1730.7 1221.7,1730.9 1224.3,1732.5 1226.1,1728.8 1228.2,1724.9 1229.7,1724.7 1232.6,1726.8 1234.6,1722.4 1237.4,1718.9 1239.1,1716.9 1241.5,1715.5 1242.8,1711.8 1244.8,1713.2 1246.8,1707.8 1249.8,1705.0 1251.4,1707.4 1254.8,1706.3 1258.0,1703.3 1260.0,1702.1 1263.3,1700.5 1265.5,1700.0 1268.3,1699.9 1271.1,1697.9 1273.4,1695.1 1276.8,1694.3 1278.3,1691.1 1282.4,1693.5 1284.4,1695.9 1287.7,1696.3 1290.4,1696.9 1292.0,1694.6 1294.6,1697.2 1298.0,1698.4 1301.1,1701.1 1302.9,1700.7 1305.8,1701.9 1308.9,1702.0 1311.0,1707.6 1313.1,1705.2 1314.5,1707.6 1317.2,1710.6 1318.2,1712.8 1321.0,1713.4 1324.2,1706.6 1326.6,1703.9 1328.8,1708.8 1330.9,1710.3 1331.0,1714.0 1332.6,1713.8 1334.4,1717.6 1338.0,1715.5 1339.8,1717.2 1341.8,1714.9 1345.5,1713.0 1347.5,1712.2 1349.7,1717.7 1354.1,1716.5 1355.9,1717.4 1359.1,1716.0 1361.2,1712.8 1363.9,1715.1 1366.6,1709.6 1369.3,1711.8 1371.2,1712.5 1375.1,1714.0 1377.6,1712.7 1379.3,1715.0 1382.9,1711.7 1384.9,1712.3 1387.9,1715.7 1391.0,1716.0 1392.8,1717.7 1396.0,1718.4 1398.5,1719.9 1400.6,1722.0 1402.2,1725.2 1404.0,1727.8 1405.7,1732.2 1406.5,1734.7 1407.0,1734.5 1408.3,1736.5 1409.8,1739.2 1410.5,1744.0 1411.7,1747.1 1412.7,1749.3 1413.8,1753.0 1414.8,1752.0 1416.7,1757.1 1417.4,1759.8 1417.5,1762.1 1419.2,1765.4 1420.2,1765.4 1421.2,1769.8 1424.6,1773.6 1424.2,1776.6 1425.5,1777.0 1427.4,1780.9 1429.3,1782.6 1428.4,1785.6 1430.3,1789.2 1431.8,1788.7 1432.7,1790.1 1434.0,1795.4 1435.8,1797.7 1435.6,1799.0 1436.8,1802.7 1437.7,1804.7 1436.6,1809.5 1437.1,1811.4 1436.9,1811.9 1437.7,1812.5 1441.2,1814.5 1442.7,1819.2 1442.9,1819.3 1446.4,1824.4 1448.1,1826.2 1448.0,1827.3 1449.4,1831.8 1450.5,1831.5 1451.2,1835.5 1452.3,1838.9 1453.0,1841.3 1453.5,1843.0 1453.6,1846.0 1454.4,1850.6 1455.7,1851.6 1454.9,1855.6 1458.0,1858.2 1460.3,1861.5 1460.8,1861.6 1461.0,1865.8 1463.3,1866.6 1464.3,1871.7 1465.5,1872.2 1466.7,1874.3 1466.1,1876.8 1467.4,1879.2 1468.1,1884.8 1469.2,1882.4 1470.9,1888.5 1470.7,1889.9 1471.5,1893.8 1472.3,1896.0 1474.7,1897.2 1474.6,1899.6 1475.4,1902.1 1478.1,1905.2 1478.9,1904.9 1481.0,1909.9 1482.8,1912.5 1484.6,1913.1 1486.0,1913.0 1486.3,1919.2 1487.3,1920.0 1488.6,1922.6 1490.8,1924.4 1490.5,1927.3 1491.0,1931.6 1492.6,1934.4 1494.1,1934.8 1494.8,1938.6 1495.0,1940.8 1495.6,1940.7 1496.3,1943.5 1498.0,1948.2 1498.8,1950.5 1500.2,1951.5 1501.2,1956.1 1501.6,1957.5 1501.9,1960.7 1502.2,1961.4 1502.6,1965.1 1504.0,1967.2 1503.8,1967.7 1504.2,1970.0 1503.8,1974.7 1505.0,1977.0 1506.6,1980.2 1507.2,1982.5 1507.9,1985.4 1507.1,1990.1 1508.9,1991.6 1509.6,1994.3 1509.9,1994.6 1511.0,2000.2 1512.6,2000.2 1512.5,2003.7 1512.6,2007.4 1514.7,2009.4 1513.9,2011.9 1515.2,2016.2 1515.8,2019.0 1515.4,2021.9 1516.8,2023.4 1517.0,2028.0 1517.8,2026.2 1518.5,2032.1 1519.1,2032.7 1519.7,2036.6 1519.5,2036.2 1518.9,2042.2 1520.2,2041.8 1520.9,2050.0 1520.7,2050.0 1521.6,2049.9 1521.3,2055.2 1521.7,2055.5 1522.3,2058.7 1524.2,2057.5 1524.1,2065.1 1525.4,2066.8 1526.7,2069.1 1526.3,2072.4 1528.2,2075.8 1528.2,2075.4 1529.8,2077.4 1529.6,2079.8 1530.2,2082.1 1531.7,2086.0 1533.0,2088.1 1532.4,2091.1 1533.5,2095.1 1535.9,2094.9 1536.4,2096.3 1536.5,2101.0 1538.6,2102.4 1539.8,2105.7 1540.0,2106.8 1540.6,2112.5 1541.8,2116.2 1541.9,2121.1 1541.8,2119.9 1542.6,2122.4 1543.6,2125.8 1544.2,2126.2 1544.4,2130.6 1545.1,2134.3 1546.7,2137.3 1546.5,2140.7 1546.4,2143.1 1548.1,2149.3 1548.2,2148.9 1549.4,2153.4 1550.8,2154.3 1551.5,2156.7 1551.7,2157.9 1553.6,2160.9 1554.4,2163.6 1555.4,2165.2 1559.3,2168.1 1562.0,2167.4 1562.2,2171.0 1564.9,2170.9 1567.2,2172.8 1569.2,2175.8 1571.6,2178.2 1573.0,2178.9 1572.8,2187.9 1573.6,2188.1 1573.2,2189.2 1575.1,2193.2 1575.3,2196.4 1576.9,2197.9 1577.2,2201.1 1578.4,2204.2 1581.1,2205.6 1580.6,2209.7 1584.0,2210.7 1585.0,2212.6 1586.8,2215.8 1588.8,2214.2 1590.0,2219.8 1592.4,2222.9 1594.7,2224.3 1596.0,2225.9 1598.0,2227.8 1600.2,2227.5 1601.6,2232.7 1604.6,2234.6 1605.8,2235.0 1609.3,2235.4 1610.1,2240.4 1613.6,2241.6 1614.5,2243.5 1617.3,2248.7 1619.2,2249.9 1620.9,2248.6 1623.8,2249.4 1626.2,2248.5 1629.9,2248.0 1632.0,2252.4 1633.5,2254.6 1634.4,2256.0 1636.9,2258.9 1637.3,2261.7 1638.1,2262.5 1640.2,2262.9 1643.2,2260.1 1646.4,2259.6 1647.2,2259.0 1649.9,2254.4 1652.3,2251.4 1653.6,2250.3 1655.8,2247.2 1658.1,2246.8 1658.8,2245.1 1661.1,2239.1 1663.4,2239.9 1665.5,2238.4 1666.6,2236.9 1669.1,2230.6 1671.6,2230.7 1673.6,2228.3 1675.7,2228.3 1677.7,2224.5 1679.4,2222.6 1682.4,2220.3 1685.3,2218.8 1685.9,2213.1 1685.9,2212.1 1689.1,2207.4 1690.3,2207.5 1693.8,2205.4 1695.5,2204.5 1697.9,2199.2 1699.9,2200.9 1701.4,2197.5 1703.9,2194.2 1708.0,2192.1 1709.0,2191.7 1709.9,2186.1 1711.5,2186.0 1713.5,2181.9 1715.3,2180.6 1717.7,2178.7 1719.6,2176.3 1720.1,2174.9 1720.7,2173.5 1721.4,2167.6 1724.3,2166.3 1725.8,2166.9 1727.8,2163.2 1730.0,2162.9 1731.7,2162.9 1734.6,2160.3 1736.9,2158.0 1739.6,2159.5 1741.8,2156.9 1744.0,2154.8 1746.5,2153.5 1748.3,2152.2 1750.8,2145.9 1753.8,2147.1 1754.7,2145.2 1757.5,2145.1 1759.7,2145.0 1762.0,2142.6 1763.0,2141.2 1766.0,2137.8 1766.9,2135.2 1768.8,2135.4 1769.5,2131.8 1771.8,2131.4 1775.3,2132.6 1778.5,2133.1 1779.9,2130.1 1781.8,2127.1 1785.8,2124.7 1786.6,2123.6 1789.3,2119.5 1790.6,2118.9 1794.1,2117.5 1795.7,2114.6 1798.8,2115.8 1801.7,2115.0 1803.8,2113.8 1807.1,2115.9 1809.5,2112.3 1812.1,2110.5 1814.0,2110.3 1816.7,2110.6 1818.8,2108.9 1822.4,2109.4 1824.1,2105.3 1825.4,2105.0 1828.5,2105.7 1830.7,2102.7" fill="none" stroke="#0f0" stroke-width="9" stroke-linejoin="round" shape-rendering="crispEdges" stroke-dasharray="8 6.56"/></g>
<g stroke="#222" stroke-width="3" fill="none"><line x1="225.5" y1="2732.8" x2="225.5" y2="2715.8"/><line x1="225.5" y1="1592.4" x2="225.5" y2="1609.4"/><line x1="426.1" y1="2732.8" x2="426.1" y2="2715.8"/><line x1="426.1" y1="1592.4" x2="426.1" y2="1609.4"/><line x1="626.8" y1="2732.8" x2="626.8" y2="2715.8"/><line x1="626.8" y1="1592.4" x2="626.8" y2="1609.4"/><line x1="827.4" y1="2732.8" x2="827.4" y2="2715.8"/><line x1="827.4" y1="1592.4" x2="827.4" y2="1609.4"/><line x1="1028.0" y1="2732.8" x2="1028.0" y2="2715.8"/><line x1="1028.0" y1="1592.4" x2="1028.0" y2="1609.4"/><line x1="1228.6" y1="2732.8" x2="1228.6" y2="2715.8"/><line x1="1228.6" y1="1592.4" x2="1228.6" y2="1609.4"/><line x1="1429.2" y1="2732.8" x2="1429.2" y2="2715.8"/><line x1="1429.2" y1="1592.4" x2="1429.2" y2="1609.4"/><line x1="1629.9" y1="2732.8" x2="1629.9" y2="2715.8"/><line x1="1629.9" y1="1592.4" x2="1629.9" y2="1609.4"/><line x1="1830.5" y1="2732.8" x2="1830.5" y2="2715.8"/><line x1="1830.5" y1="1592.4" x2="1830.5" y2="1609.4"/><line x1="225.5" y1="2732.8" x2="242.5" y2="2732.8"/><line x1="1830.5" y1="2732.8" x2="1813.5" y2="2732.8"/><line x1="225.5" y1="2606.1" x2="242.5" y2="2606.1"/><line x1="1830.5" y1="2606.1" x2="1813.5" y2="2606.1"/><line x1="225.5" y1="2479.4" x2="242.5" y2="2479.4"/><line x1="1830.5" y1="2479.4" x2="1813.5" y2="2479.4"/><line x1="225.5" y1="2352.7" x2="242.5" y2="2352.7"/><line x1="1830.5" y1="2352.7" x2="1813.5" y2="2352.7"/><line x1="225.5" y1="2226.0" x2="242.5" y2="2226.0"/><line x1="1830.5" y1="2226.0" x2="1813.5" y2="2226.0"/><line x1="225.5" y1="2099.2" x2="242.5" y2="2099.2"/><line x1="1830.5" y1="2099.2" x2="1813.5" y2="2099.2"/><line x1="225.5" y1="1972.5" x2="242.5" y2="1972.5"/><line x1="1830.5" y1="1972.5" x2="1813.5" y2="1972.5"/><line x1="225.5" y1="1845.8" x2="242.5" y2="1845.8"/><line x1="1830.5" y1="1845.8" x2="1813.5" y2="1845.8"/><line x1="225.5" y1="1719.1" x2="242.5" y2="1719.1"/><line x1="1830.5" y1="1719.1" x2="1813.5" y2="1719.1"/><line x1="225.5" y1="1592.4" x2="242.5" y2="1592.4"/><line x1="1830.5" y1="1592.4" x2="1813.5" y2="1592.4"/><rect x="225.5" y="1592.4" width="1605.0" height="1140.4"/></g>
<g font-family="Liberation Serif, serif" font-weight="bold" font-size="73.5" fill="#262626"><text x="225.5" y="2819.8" text-anchor="middle">0</text><text x="426.1" y="2819.8" text-anchor="middle">200</text><text x="626.8" y="2819.8" text-anchor="middle">400</text><text x="827.4" y="2819.8" text-anchor="middle">600</text><text x="1028.0" y="2819.8" text-anchor="middle">800</text><text x="1228.6" y="2819.8" text-anchor="middle">1000</text><text x="1429.2" y="2819.8" text-anchor="middle">1200</text><text x="1629.9" y="2819.8" text-anchor="middle">1400</text><text x="1830.5" y="2819.8" text-anchor="middle">1600</text><text x="203.4" y="2757.8" text-anchor="end">12</text><text x="203.4" y="2631.1" text-anchor="end">14</text><text x="203.4" y="2504.4" text-anchor="end">16</text><text x="203.4" y="2377.7" text-anchor="end">18</text><text x="203.4" y="2251.0" text-anchor="end">20</text><text x="203.4" y="2124.2" text-anchor="end">22</text><text x="203.4" y="1997.5" text-anchor="end">24</text><text x="203.4" y="1870.8" text-anchor="end">26</text><text x="203.4" y="1744.1" text-anchor="end">28</text><text x="203.4" y="1617.4" text-anchor="end">30</text></g>
<rect x="1138" y="2517.2" width="670" height="188.4" fill="#fff" stroke="#000" stroke-width="2"/><line x1="1147.7" y1="2567" x2="1259" y2="2567" stroke="#f00" stroke-width="9"/><text x="1264.6" y="2592.7" font-family="Liberation Serif, serif" font-weight="bold" font-size="73" fill="#000">10mm</text><line x1="1482.8" y1="2566.8" x2="1594.4" y2="2566.8" stroke="#000" stroke-width="9" stroke-dasharray="30.3 27.8"/><text x="1600.3" y="2592.7" font-family="Liberation Serif, serif" font-weight="bold" font-size="73" fill="#000">15mm</text><line x1="1147.7" y1="2655.8" x2="1259" y2="2655.8" stroke="#00f" stroke-width="9" stroke-dasharray="30 6.2 15.6 6.2"/><text x="1264.6" y="2682" font-family="Liberation Serif, serif" font-weight="bold" font-size="73" fill="#000">20mm</text><line x1="1482.8" y1="2655.5" x2="1594.4" y2="2655.5" stroke="#0f0" stroke-width="9" stroke-dasharray="8 6.56"/><text x="1600.3" y="2682" font-family="Liberation Serif, serif" font-weight="bold" font-size="73" fill="#000">25mm</text>

<text x="795.7" y="1360.2" font-family="Liberation Serif, serif" font-weight="bold" font-size="72.4" fill="#262626">Frequency (Hz)</text>
<text transform="translate(91.8,562.5) rotate(-90)" text-anchor="middle" font-family="Liberation Serif, serif" font-weight="bold" font-size="71.1" fill="#262626">STL of Type B (dB)</text>
<text x="808.6" y="2899.6" font-family="Liberation Serif, serif" font-weight="bold" font-size="73" fill="#262626">Frequency (Hz)</text>
<text transform="translate(85.9,2153.8) rotate(-90)" text-anchor="middle" font-family="Liberation Serif, serif" font-weight="bold" font-size="72.2" fill="#262626">STL of Type B (dB)</text>
<g font-family="Liberation Serif, serif" font-size="86" fill="#000"><text transform="translate(915.8,1514.5) scale(0.85,1)">(</text><text x="941.8" y="1514.5" font-weight="bold">a</text><text transform="translate(984.9,1514.5) scale(0.85,1)">)</text></g>
<g font-family="Liberation Serif, serif" font-size="86" fill="#000"><text transform="translate(910.6,3059) scale(0.85,1)">(</text><text x="938.6" y="3059" font-weight="bold">b</text><text transform="translate(989.9,3059) scale(0.85,1)">)</text></g>

</svg>
</body></html>
